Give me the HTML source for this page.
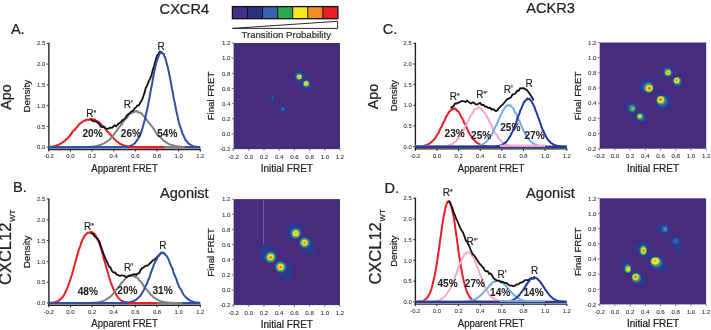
<!DOCTYPE html>
<html><head><meta charset="utf-8"><style>
html,body{margin:0;padding:0;background:#fff;width:711px;height:330px;overflow:hidden}
svg{display:block;will-change:transform}
text{font-family:"Liberation Sans", sans-serif}
</style></head><body>
<svg width="711" height="330" viewBox="0 0 711 330">
<defs><filter id="bl" x="-20%" y="-20%" width="140%" height="140%"><feGaussianBlur stdDeviation="0.55"/></filter></defs>
<rect width="711" height="330" fill="#fff"/>
<text x="159.6" y="13.7" font-size="14.6" text-anchor="start" font-weight="normal" fill="#222" stroke="#222" stroke-width="0.22">CXCR4</text>
<text x="526.2" y="13.0" font-size="14.6" text-anchor="start" font-weight="normal" fill="#222" stroke="#222" stroke-width="0.22">ACKR3</text>
<rect x="232.40" y="6.6" width="15.07" height="12.1" fill="rgb(74,45,138)"/>
<rect x="247.47" y="6.6" width="15.07" height="12.1" fill="rgb(42,50,128)"/>
<rect x="262.54" y="6.6" width="15.07" height="12.1" fill="rgb(55,100,180)"/>
<rect x="277.61" y="6.6" width="15.07" height="12.1" fill="rgb(40,170,75)"/>
<rect x="292.69" y="6.6" width="15.07" height="12.1" fill="rgb(248,230,30)"/>
<rect x="307.76" y="6.6" width="15.07" height="12.1" fill="rgb(245,138,35)"/>
<rect x="322.83" y="6.6" width="15.07" height="12.1" fill="rgb(232,32,40)"/>
<line x1="247.47" y1="6.6" x2="247.47" y2="18.7" stroke="#111" stroke-width="1"/>
<line x1="262.54" y1="6.6" x2="262.54" y2="18.7" stroke="#111" stroke-width="1"/>
<line x1="277.61" y1="6.6" x2="277.61" y2="18.7" stroke="#111" stroke-width="1"/>
<line x1="292.69" y1="6.6" x2="292.69" y2="18.7" stroke="#111" stroke-width="1"/>
<line x1="307.76" y1="6.6" x2="307.76" y2="18.7" stroke="#111" stroke-width="1"/>
<line x1="322.83" y1="6.6" x2="322.83" y2="18.7" stroke="#111" stroke-width="1"/>
<rect x="232.4" y="6.6" width="105.50" height="12.1" fill="none" stroke="#111" stroke-width="1.3"/>
<polygon points="232.4,28.4 337.6,21.3 337.6,28.4" fill="#fff" stroke="#111" stroke-width="0.9"/>
<text x="286.2" y="38.0" font-size="9.65" text-anchor="middle" font-weight="normal" fill="#333" stroke="#333" stroke-width="0.22">Transition Probability</text>
<text x="10.9" y="33.6" font-size="14.6" text-anchor="start" font-weight="normal" fill="#222" stroke="#222" stroke-width="0.22">A.</text>
<text x="382.7" y="33.9" font-size="14.6" text-anchor="start" font-weight="normal" fill="#222" stroke="#222" stroke-width="0.22">C.</text>
<text x="13.1" y="192.3" font-size="14.6" text-anchor="start" font-weight="normal" fill="#222" stroke="#222" stroke-width="0.22">B.</text>
<text x="384.5" y="192.8" font-size="14.6" text-anchor="start" font-weight="normal" fill="#222" stroke="#222" stroke-width="0.22">D.</text>
<text x="160" y="198.1" font-size="14.6" text-anchor="start" font-weight="normal" fill="#222" stroke="#222" stroke-width="0.22">Agonist</text>
<text x="526.1" y="198.2" font-size="14.6" text-anchor="start" font-weight="normal" fill="#222" stroke="#222" stroke-width="0.22">Agonist</text>
<text x="10.9" y="97" font-size="14.3" text-anchor="middle" font-weight="normal" fill="#222" stroke="#222" stroke-width="0.22" transform="rotate(-90 10.9 97)">Apo</text>
<text x="378.4" y="96.5" font-size="14.3" text-anchor="middle" font-weight="normal" fill="#222" stroke="#222" stroke-width="0.22" transform="rotate(-90 378.4 96.5)">Apo</text>
<g transform="rotate(-90 11.2 285.0)"><text x="11.2" y="285.0" font-size="16.5" text-anchor="start" fill="#222" stroke="#222" stroke-width="0.22">CXCL12<tspan font-size="7.8" dy="4.2" dx="0.8">WT</tspan></text></g>
<g transform="rotate(-90 381.0 284.6)"><text x="381.0" y="284.6" font-size="16.5" text-anchor="start" fill="#222" stroke="#222" stroke-width="0.22">CXCL12<tspan font-size="7.8" dy="4.2" dx="0.8">WT</tspan></text></g>
<text x="30.0" y="96.2" font-size="9.8" text-anchor="middle" font-weight="normal" fill="#222" stroke="#222" stroke-width="0.22" transform="rotate(-90 30.0 96.2)">Density</text>
<text x="396.6" y="95.6" font-size="9.4" text-anchor="middle" font-weight="normal" fill="#222" stroke="#222" stroke-width="0.22" transform="rotate(-90 396.6 95.6)">Density</text>
<text x="30.2" y="251.9" font-size="9.8" text-anchor="middle" font-weight="normal" fill="#222" stroke="#222" stroke-width="0.22" transform="rotate(-90 30.2 251.9)">Density</text>
<text x="396.8" y="251.2" font-size="9.4" text-anchor="middle" font-weight="normal" fill="#222" stroke="#222" stroke-width="0.22" transform="rotate(-90 396.8 251.2)">Density</text>
<text x="124.6" y="172.2" font-size="10.4" text-anchor="middle" font-weight="normal" fill="#222" stroke="#222" stroke-width="0.22" textLength="66.5" lengthAdjust="spacingAndGlyphs">Apparent FRET</text>
<text x="491" y="171.9" font-size="10.4" text-anchor="middle" font-weight="normal" fill="#222" stroke="#222" stroke-width="0.22" textLength="66.5" lengthAdjust="spacingAndGlyphs">Apparent FRET</text>
<text x="124.6" y="327.2" font-size="10.4" text-anchor="middle" font-weight="normal" fill="#222" stroke="#222" stroke-width="0.22" textLength="66.5" lengthAdjust="spacingAndGlyphs">Apparent FRET</text>
<text x="491" y="326.9" font-size="10.4" text-anchor="middle" font-weight="normal" fill="#222" stroke="#222" stroke-width="0.22" textLength="66.5" lengthAdjust="spacingAndGlyphs">Apparent FRET</text>
<text x="286.8" y="172.1" font-size="10" text-anchor="middle" font-weight="normal" fill="#222" stroke="#222" stroke-width="0.22">Initial FRET</text>
<text x="653" y="171.8" font-size="10" text-anchor="middle" font-weight="normal" fill="#222" stroke="#222" stroke-width="0.22">Initial FRET</text>
<text x="286.8" y="327.5" font-size="10" text-anchor="middle" font-weight="normal" fill="#222" stroke="#222" stroke-width="0.22">Initial FRET</text>
<text x="653" y="327" font-size="10" text-anchor="middle" font-weight="normal" fill="#222" stroke="#222" stroke-width="0.22">Initial FRET</text>
<text x="214" y="96" font-size="9.6" text-anchor="middle" font-weight="normal" fill="#222" stroke="#222" stroke-width="0.22" transform="rotate(-90 214 96)">Final FRET</text>
<text x="580.6" y="96" font-size="9.6" text-anchor="middle" font-weight="normal" fill="#222" stroke="#222" stroke-width="0.22" transform="rotate(-90 580.6 96)">Final FRET</text>
<text x="214" y="252.4" font-size="9.6" text-anchor="middle" font-weight="normal" fill="#222" stroke="#222" stroke-width="0.22" transform="rotate(-90 214 252.4)">Final FRET</text>
<text x="580.6" y="251.8" font-size="9.6" text-anchor="middle" font-weight="normal" fill="#222" stroke="#222" stroke-width="0.22" transform="rotate(-90 580.6 251.8)">Final FRET</text>
<rect x="233.6" y="43.0" width="106.4" height="106.1" fill="rgb(71,43,124)"/>
<g filter="url(#bl)">
<polygon points="293.90,73.17 296.70,70.37 302.30,70.37 305.10,75.41 304.54,81.01 299.50,82.69 294.46,80.45" fill="rgb(42,58,146)"/><ellipse cx="0" cy="0" rx="3.59" ry="3.59" fill="rgb(54,94,180)" transform="translate(298.90 76.40) rotate(0)"/><ellipse cx="0" cy="0" rx="2.80" ry="2.80" fill="rgb(60,175,95)" transform="translate(299.22 76.73) rotate(0)"/><ellipse cx="0" cy="0" rx="2.20" ry="2.20" fill="rgb(240,225,45)" transform="translate(299.35 76.85) rotate(0)"/><ellipse cx="0" cy="0" rx="0.80" ry="0.80" fill="rgb(242,140,40)" transform="translate(299.40 76.90) rotate(0)"/>
<polygon points="300.93,79.51 306.53,77.83 310.45,80.63 312.13,86.79 309.33,89.59 303.73,89.03 300.37,85.11" fill="rgb(42,58,146)"/><ellipse cx="0" cy="0" rx="3.59" ry="3.59" fill="rgb(54,94,180)" transform="translate(306.50 83.90) rotate(0)"/><ellipse cx="0" cy="0" rx="2.80" ry="2.80" fill="rgb(60,175,95)" transform="translate(306.18 83.58) rotate(0)"/><ellipse cx="0" cy="0" rx="2.20" ry="2.20" fill="rgb(240,225,45)" transform="translate(306.05 83.45) rotate(0)"/><ellipse cx="0" cy="0" rx="0.80" ry="0.80" fill="rgb(242,140,40)" transform="translate(306.00 83.40) rotate(0)"/>
<polygon points="270.58,92.64 274.39,92.64 275.06,103.06 270.36,103.06" fill="rgb(42,58,146)"/><ellipse cx="0" cy="0" rx="0.81" ry="1.47" fill="rgb(54,94,180)" transform="translate(272.60 98.00) rotate(0)"/>
<polygon points="279.18,105.66 283.55,104.77 286.79,108.58 285.90,112.61 280.19,112.38" fill="rgb(42,58,146)"/><ellipse cx="0" cy="0" rx="1.84" ry="1.84" fill="rgb(54,94,180)" transform="translate(282.80 109.00) rotate(0)"/>
</g>
<line x1="231.79999999999998" y1="149.1" x2="233.6" y2="149.1" stroke="#555" stroke-width="0.8"/>
<text x="230.4" y="151.4" font-size="6.1" text-anchor="end" font-weight="normal" fill="#333" stroke="#333" stroke-width="0.08">-0.2</text>
<line x1="233.6" y1="149.1" x2="233.6" y2="150.9" stroke="#555" stroke-width="0.8"/>
<text x="233.6" y="158.6" font-size="6.1" text-anchor="middle" font-weight="normal" fill="#333" stroke="#333" stroke-width="0.08">-0.2</text>
<line x1="231.79999999999998" y1="133.94285714285715" x2="233.6" y2="133.94285714285715" stroke="#555" stroke-width="0.8"/>
<text x="230.4" y="136.24285714285716" font-size="6.1" text-anchor="end" font-weight="normal" fill="#333" stroke="#333" stroke-width="0.08">0.0</text>
<line x1="248.79999999999998" y1="149.1" x2="248.79999999999998" y2="150.9" stroke="#555" stroke-width="0.8"/>
<text x="248.79999999999998" y="158.6" font-size="6.1" text-anchor="middle" font-weight="normal" fill="#333" stroke="#333" stroke-width="0.08">0.0</text>
<line x1="231.79999999999998" y1="118.78571428571428" x2="233.6" y2="118.78571428571428" stroke="#555" stroke-width="0.8"/>
<text x="230.4" y="121.08571428571427" font-size="6.1" text-anchor="end" font-weight="normal" fill="#333" stroke="#333" stroke-width="0.08">0.2</text>
<line x1="264.0" y1="149.1" x2="264.0" y2="150.9" stroke="#555" stroke-width="0.8"/>
<text x="264.0" y="158.6" font-size="6.1" text-anchor="middle" font-weight="normal" fill="#333" stroke="#333" stroke-width="0.08">0.2</text>
<line x1="231.79999999999998" y1="103.62857142857143" x2="233.6" y2="103.62857142857143" stroke="#555" stroke-width="0.8"/>
<text x="230.4" y="105.92857142857143" font-size="6.1" text-anchor="end" font-weight="normal" fill="#333" stroke="#333" stroke-width="0.08">0.4</text>
<line x1="279.2" y1="149.1" x2="279.2" y2="150.9" stroke="#555" stroke-width="0.8"/>
<text x="279.2" y="158.6" font-size="6.1" text-anchor="middle" font-weight="normal" fill="#333" stroke="#333" stroke-width="0.08">0.4</text>
<line x1="231.79999999999998" y1="88.47142857142856" x2="233.6" y2="88.47142857142856" stroke="#555" stroke-width="0.8"/>
<text x="230.4" y="90.77142857142856" font-size="6.1" text-anchor="end" font-weight="normal" fill="#333" stroke="#333" stroke-width="0.08">0.6</text>
<line x1="294.4" y1="149.1" x2="294.4" y2="150.9" stroke="#555" stroke-width="0.8"/>
<text x="294.4" y="158.6" font-size="6.1" text-anchor="middle" font-weight="normal" fill="#333" stroke="#333" stroke-width="0.08">0.6</text>
<line x1="231.79999999999998" y1="73.3142857142857" x2="233.6" y2="73.3142857142857" stroke="#555" stroke-width="0.8"/>
<text x="230.4" y="75.6142857142857" font-size="6.1" text-anchor="end" font-weight="normal" fill="#333" stroke="#333" stroke-width="0.08">0.8</text>
<line x1="309.6" y1="149.1" x2="309.6" y2="150.9" stroke="#555" stroke-width="0.8"/>
<text x="309.6" y="158.6" font-size="6.1" text-anchor="middle" font-weight="normal" fill="#333" stroke="#333" stroke-width="0.08">0.8</text>
<line x1="231.79999999999998" y1="58.15714285714286" x2="233.6" y2="58.15714285714286" stroke="#555" stroke-width="0.8"/>
<text x="230.4" y="60.457142857142856" font-size="6.1" text-anchor="end" font-weight="normal" fill="#333" stroke="#333" stroke-width="0.08">1.0</text>
<line x1="324.8" y1="149.1" x2="324.8" y2="150.9" stroke="#555" stroke-width="0.8"/>
<text x="324.8" y="158.6" font-size="6.1" text-anchor="middle" font-weight="normal" fill="#333" stroke="#333" stroke-width="0.08">1.0</text>
<line x1="231.79999999999998" y1="43.0" x2="233.6" y2="43.0" stroke="#555" stroke-width="0.8"/>
<text x="230.4" y="45.3" font-size="6.1" text-anchor="end" font-weight="normal" fill="#333" stroke="#333" stroke-width="0.08">1.2</text>
<line x1="340.0" y1="149.1" x2="340.0" y2="150.9" stroke="#555" stroke-width="0.8"/>
<text x="340.0" y="158.6" font-size="6.1" text-anchor="middle" font-weight="normal" fill="#333" stroke="#333" stroke-width="0.08">1.2</text>
<rect x="233.6" y="199.1" width="106.4" height="106.0" fill="rgb(71,43,124)"/>
<g filter="url(#bl)"><line x1="263.5" y1="199.1" x2="263.5" y2="245.6" stroke="rgb(125,110,170)" stroke-width="0.7"/><line x1="290" y1="265" x2="290" y2="279" stroke="rgb(70,80,160)" stroke-width="0.7"/>
<polygon points="286.76,228.60 291.13,224.12 297.74,223.00 302.22,230.73 299.98,238.46 292.25,239.58 285.64,235.21" fill="rgb(42,58,146)"/><ellipse cx="0" cy="0" rx="5.34" ry="5.34" fill="rgb(54,94,180)" transform="translate(295.80 233.40) rotate(0)"/><ellipse cx="0" cy="0" rx="4.30" ry="4.30" fill="rgb(60,175,95)" transform="translate(295.80 233.40) rotate(0)"/><ellipse cx="0" cy="0" rx="2.90" ry="2.90" fill="rgb(240,225,45)" transform="translate(295.80 233.40) rotate(0)"/><ellipse cx="0" cy="0" rx="1.00" ry="1.00" fill="rgb(242,140,40)" transform="translate(295.80 233.40) rotate(0)"/>
<polygon points="300.57,237.82 309.42,237.82 314.91,244.43 316.03,253.28 308.30,255.52 302.81,249.92 299.45,243.31" fill="rgb(42,58,146)"/><ellipse cx="0" cy="0" rx="5.52" ry="5.52" fill="rgb(54,94,180)" transform="translate(304.60 242.70) rotate(0)"/><ellipse cx="0" cy="0" rx="4.40" ry="4.40" fill="rgb(60,175,95)" transform="translate(304.60 242.70) rotate(0)"/><ellipse cx="0" cy="0" rx="3.00" ry="3.00" fill="rgb(240,225,45)" transform="translate(304.60 242.70) rotate(0)"/><ellipse cx="0" cy="0" rx="1.30" ry="1.30" fill="rgb(242,140,40)" transform="translate(304.60 242.70) rotate(0)"/><ellipse cx="0" cy="0" rx="0.40" ry="0.40" fill="rgb(232,45,40)" transform="translate(304.60 242.70) rotate(0)"/>
<polygon points="257.88,251.17 263.48,244.57 268.97,245.69 275.57,251.17 276.69,260.02 273.33,263.27 264.49,261.14 259.00,256.66" fill="rgb(42,58,146)"/><ellipse cx="0" cy="0" rx="5.70" ry="5.70" fill="rgb(54,94,180)" transform="translate(270.60 257.20) rotate(0)"/><ellipse cx="0" cy="0" rx="4.60" ry="4.60" fill="rgb(60,175,95)" transform="translate(270.60 257.20) rotate(0)"/><ellipse cx="0" cy="0" rx="3.10" ry="3.10" fill="rgb(240,225,45)" transform="translate(270.60 257.20) rotate(0)"/><ellipse cx="0" cy="0" rx="1.50" ry="1.50" fill="rgb(242,140,40)" transform="translate(270.60 257.20) rotate(0)"/><ellipse cx="0" cy="0" rx="0.50" ry="0.50" fill="rgb(232,45,40)" transform="translate(270.60 257.20) rotate(0)"/>
<polygon points="275.88,261.37 284.61,262.49 291.33,263.61 291.33,280.18 284.61,279.06 280.24,274.70 277.00,269.10" fill="rgb(42,58,146)"/><ellipse cx="0" cy="0" rx="5.70" ry="5.70" fill="rgb(54,94,180)" transform="translate(280.60 266.90) rotate(0)"/><ellipse cx="0" cy="0" rx="4.60" ry="4.60" fill="rgb(60,175,95)" transform="translate(280.60 266.90) rotate(0)"/><ellipse cx="0" cy="0" rx="3.10" ry="3.10" fill="rgb(240,225,45)" transform="translate(280.60 266.90) rotate(0)"/><ellipse cx="0" cy="0" rx="1.50" ry="1.50" fill="rgb(242,140,40)" transform="translate(280.60 266.90) rotate(0)"/><ellipse cx="0" cy="0" rx="0.50" ry="0.50" fill="rgb(232,45,40)" transform="translate(280.60 266.90) rotate(0)"/>
</g>
<line x1="231.79999999999998" y1="305.1" x2="233.6" y2="305.1" stroke="#555" stroke-width="0.8"/>
<text x="230.4" y="307.40000000000003" font-size="6.1" text-anchor="end" font-weight="normal" fill="#333" stroke="#333" stroke-width="0.08">-0.2</text>
<line x1="233.6" y1="305.1" x2="233.6" y2="306.90000000000003" stroke="#555" stroke-width="0.8"/>
<text x="233.6" y="314.6" font-size="6.1" text-anchor="middle" font-weight="normal" fill="#333" stroke="#333" stroke-width="0.08">-0.2</text>
<line x1="231.79999999999998" y1="289.95714285714286" x2="233.6" y2="289.95714285714286" stroke="#555" stroke-width="0.8"/>
<text x="230.4" y="292.25714285714287" font-size="6.1" text-anchor="end" font-weight="normal" fill="#333" stroke="#333" stroke-width="0.08">0.0</text>
<line x1="248.79999999999998" y1="305.1" x2="248.79999999999998" y2="306.90000000000003" stroke="#555" stroke-width="0.8"/>
<text x="248.79999999999998" y="314.6" font-size="6.1" text-anchor="middle" font-weight="normal" fill="#333" stroke="#333" stroke-width="0.08">0.0</text>
<line x1="231.79999999999998" y1="274.81428571428575" x2="233.6" y2="274.81428571428575" stroke="#555" stroke-width="0.8"/>
<text x="230.4" y="277.11428571428576" font-size="6.1" text-anchor="end" font-weight="normal" fill="#333" stroke="#333" stroke-width="0.08">0.2</text>
<line x1="264.0" y1="305.1" x2="264.0" y2="306.90000000000003" stroke="#555" stroke-width="0.8"/>
<text x="264.0" y="314.6" font-size="6.1" text-anchor="middle" font-weight="normal" fill="#333" stroke="#333" stroke-width="0.08">0.2</text>
<line x1="231.79999999999998" y1="259.6714285714286" x2="233.6" y2="259.6714285714286" stroke="#555" stroke-width="0.8"/>
<text x="230.4" y="261.9714285714286" font-size="6.1" text-anchor="end" font-weight="normal" fill="#333" stroke="#333" stroke-width="0.08">0.4</text>
<line x1="279.2" y1="305.1" x2="279.2" y2="306.90000000000003" stroke="#555" stroke-width="0.8"/>
<text x="279.2" y="314.6" font-size="6.1" text-anchor="middle" font-weight="normal" fill="#333" stroke="#333" stroke-width="0.08">0.4</text>
<line x1="231.79999999999998" y1="244.52857142857147" x2="233.6" y2="244.52857142857147" stroke="#555" stroke-width="0.8"/>
<text x="230.4" y="246.82857142857148" font-size="6.1" text-anchor="end" font-weight="normal" fill="#333" stroke="#333" stroke-width="0.08">0.6</text>
<line x1="294.4" y1="305.1" x2="294.4" y2="306.90000000000003" stroke="#555" stroke-width="0.8"/>
<text x="294.4" y="314.6" font-size="6.1" text-anchor="middle" font-weight="normal" fill="#333" stroke="#333" stroke-width="0.08">0.6</text>
<line x1="231.79999999999998" y1="229.3857142857143" x2="233.6" y2="229.3857142857143" stroke="#555" stroke-width="0.8"/>
<text x="230.4" y="231.6857142857143" font-size="6.1" text-anchor="end" font-weight="normal" fill="#333" stroke="#333" stroke-width="0.08">0.8</text>
<line x1="309.6" y1="305.1" x2="309.6" y2="306.90000000000003" stroke="#555" stroke-width="0.8"/>
<text x="309.6" y="314.6" font-size="6.1" text-anchor="middle" font-weight="normal" fill="#333" stroke="#333" stroke-width="0.08">0.8</text>
<line x1="231.79999999999998" y1="214.24285714285716" x2="233.6" y2="214.24285714285716" stroke="#555" stroke-width="0.8"/>
<text x="230.4" y="216.54285714285717" font-size="6.1" text-anchor="end" font-weight="normal" fill="#333" stroke="#333" stroke-width="0.08">1.0</text>
<line x1="324.8" y1="305.1" x2="324.8" y2="306.90000000000003" stroke="#555" stroke-width="0.8"/>
<text x="324.8" y="314.6" font-size="6.1" text-anchor="middle" font-weight="normal" fill="#333" stroke="#333" stroke-width="0.08">1.0</text>
<line x1="231.79999999999998" y1="199.10000000000002" x2="233.6" y2="199.10000000000002" stroke="#555" stroke-width="0.8"/>
<text x="230.4" y="201.40000000000003" font-size="6.1" text-anchor="end" font-weight="normal" fill="#333" stroke="#333" stroke-width="0.08">1.2</text>
<line x1="340.0" y1="305.1" x2="340.0" y2="306.90000000000003" stroke="#555" stroke-width="0.8"/>
<text x="340.0" y="314.6" font-size="6.1" text-anchor="middle" font-weight="normal" fill="#333" stroke="#333" stroke-width="0.08">1.2</text>
<rect x="599.7" y="42.5" width="106.5" height="106.2" fill="rgb(71,43,124)"/>
<g filter="url(#bl)">
<polygon points="662.85,69.62 666.21,66.93 671.70,67.38 673.94,72.87 671.70,77.35 666.21,77.35 663.30,73.99" fill="rgb(42,58,146)"/><ellipse cx="0" cy="0" rx="4.05" ry="4.05" fill="rgb(54,94,180)" transform="translate(667.50 72.00) rotate(0)"/><ellipse cx="0" cy="0" rx="3.30" ry="3.30" fill="rgb(60,175,95)" transform="translate(668.02 72.52) rotate(0)"/><ellipse cx="0" cy="0" rx="2.40" ry="2.40" fill="rgb(240,225,45)" transform="translate(668.22 72.72) rotate(0)"/><ellipse cx="0" cy="0" rx="1.10" ry="1.10" fill="rgb(242,140,40)" transform="translate(668.30 72.80) rotate(0)"/>
<polygon points="671.73,76.16 678.34,76.16 682.71,81.65 682.71,87.14 678.34,88.26 673.86,85.01 671.73,80.53" fill="rgb(42,58,146)"/><ellipse cx="0" cy="0" rx="4.23" ry="4.23" fill="rgb(54,94,180)" transform="translate(677.60 81.30) rotate(0)"/><ellipse cx="0" cy="0" rx="3.50" ry="3.50" fill="rgb(60,175,95)" transform="translate(676.95 80.65) rotate(0)"/><ellipse cx="0" cy="0" rx="2.60" ry="2.60" fill="rgb(240,225,45)" transform="translate(676.70 80.40) rotate(0)"/><ellipse cx="0" cy="0" rx="1.30" ry="1.30" fill="rgb(242,140,40)" transform="translate(676.60 80.30) rotate(0)"/>
<polygon points="637.72,84.52 643.32,78.92 651.04,78.92 654.29,85.53 654.29,92.25 647.68,93.26 639.96,90.01" fill="rgb(42,58,146)"/><ellipse cx="0" cy="0" rx="5.34" ry="5.34" fill="rgb(54,94,180)" transform="translate(648.10 87.20) rotate(0)"/><ellipse cx="0" cy="0" rx="4.40" ry="4.40" fill="rgb(60,175,95)" transform="translate(648.88 87.98) rotate(0)"/><ellipse cx="0" cy="0" rx="3.30" ry="3.30" fill="rgb(240,225,45)" transform="translate(649.18 88.28) rotate(0)"/><ellipse cx="0" cy="0" rx="1.80" ry="1.80" fill="rgb(242,140,40)" transform="translate(649.30 88.40) rotate(0)"/><ellipse cx="0" cy="0" rx="0.60" ry="0.60" fill="rgb(232,45,40)" transform="translate(649.30 88.40) rotate(0)"/>
<polygon points="655.64,93.62 664.49,93.62 671.10,98.10 671.10,105.83 667.74,109.07 660.01,109.07 655.64,103.59" fill="rgb(42,58,146)"/><ellipse cx="0" cy="0" rx="5.52" ry="5.52" fill="rgb(54,94,180)" transform="translate(662.30 101.30) rotate(0)"/><ellipse cx="0" cy="0" rx="4.40" ry="4.40" fill="rgb(60,175,95)" transform="translate(661.13 100.13) rotate(0)"/><ellipse cx="0" cy="0" rx="3.30" ry="3.30" fill="rgb(240,225,45)" transform="translate(660.68 99.68) rotate(0)"/><ellipse cx="0" cy="0" rx="1.80" ry="1.80" fill="rgb(242,140,40)" transform="translate(660.50 99.50) rotate(0)"/><ellipse cx="0" cy="0" rx="0.70" ry="0.70" fill="rgb(232,45,40)" transform="translate(660.50 99.50) rotate(0)"/>
<polygon points="625.31,105.03 628.67,102.79 633.03,103.91 636.39,109.40 635.27,113.88 630.79,113.88 626.43,110.52" fill="rgb(42,58,146)"/><ellipse cx="0" cy="0" rx="3.86" ry="3.86" fill="rgb(54,94,180)" transform="translate(632.00 108.10) rotate(0)"/><ellipse cx="0" cy="0" rx="2.80" ry="2.80" fill="rgb(60,175,95)" transform="translate(632.52 108.62) rotate(0)"/><ellipse cx="0" cy="0" rx="0.70" ry="0.70" fill="rgb(240,225,45)" transform="translate(632.72 108.82) rotate(0)"/>
<polygon points="636.26,111.76 642.87,111.76 647.24,116.13 647.24,119.49 642.87,121.62 637.38,120.61 635.14,116.13" fill="rgb(42,58,146)"/><ellipse cx="0" cy="0" rx="3.86" ry="3.86" fill="rgb(54,94,180)" transform="translate(640.50 117.00) rotate(0)"/><ellipse cx="0" cy="0" rx="3.00" ry="3.00" fill="rgb(60,175,95)" transform="translate(639.98 116.48) rotate(0)"/><ellipse cx="0" cy="0" rx="1.80" ry="1.80" fill="rgb(240,225,45)" transform="translate(639.78 116.28) rotate(0)"/><ellipse cx="0" cy="0" rx="0.50" ry="0.50" fill="rgb(242,140,40)" transform="translate(639.70 116.20) rotate(0)"/>
</g>
<line x1="597.9000000000001" y1="148.7" x2="599.7" y2="148.7" stroke="#555" stroke-width="0.8"/>
<text x="596.5" y="151.0" font-size="6.1" text-anchor="end" font-weight="normal" fill="#333" stroke="#333" stroke-width="0.08">-0.2</text>
<line x1="599.7" y1="148.7" x2="599.7" y2="150.5" stroke="#555" stroke-width="0.8"/>
<text x="599.7" y="158.2" font-size="6.1" text-anchor="middle" font-weight="normal" fill="#333" stroke="#333" stroke-width="0.08">-0.2</text>
<line x1="597.9000000000001" y1="133.5285714285714" x2="599.7" y2="133.5285714285714" stroke="#555" stroke-width="0.8"/>
<text x="596.5" y="135.82857142857142" font-size="6.1" text-anchor="end" font-weight="normal" fill="#333" stroke="#333" stroke-width="0.08">0.0</text>
<line x1="614.9142857142857" y1="148.7" x2="614.9142857142857" y2="150.5" stroke="#555" stroke-width="0.8"/>
<text x="614.9142857142857" y="158.2" font-size="6.1" text-anchor="middle" font-weight="normal" fill="#333" stroke="#333" stroke-width="0.08">0.0</text>
<line x1="597.9000000000001" y1="118.35714285714285" x2="599.7" y2="118.35714285714285" stroke="#555" stroke-width="0.8"/>
<text x="596.5" y="120.65714285714284" font-size="6.1" text-anchor="end" font-weight="normal" fill="#333" stroke="#333" stroke-width="0.08">0.2</text>
<line x1="630.1285714285715" y1="148.7" x2="630.1285714285715" y2="150.5" stroke="#555" stroke-width="0.8"/>
<text x="630.1285714285715" y="158.2" font-size="6.1" text-anchor="middle" font-weight="normal" fill="#333" stroke="#333" stroke-width="0.08">0.2</text>
<line x1="597.9000000000001" y1="103.18571428571427" x2="599.7" y2="103.18571428571427" stroke="#555" stroke-width="0.8"/>
<text x="596.5" y="105.48571428571427" font-size="6.1" text-anchor="end" font-weight="normal" fill="#333" stroke="#333" stroke-width="0.08">0.4</text>
<line x1="645.3428571428572" y1="148.7" x2="645.3428571428572" y2="150.5" stroke="#555" stroke-width="0.8"/>
<text x="645.3428571428572" y="158.2" font-size="6.1" text-anchor="middle" font-weight="normal" fill="#333" stroke="#333" stroke-width="0.08">0.4</text>
<line x1="597.9000000000001" y1="88.0142857142857" x2="599.7" y2="88.0142857142857" stroke="#555" stroke-width="0.8"/>
<text x="596.5" y="90.3142857142857" font-size="6.1" text-anchor="end" font-weight="normal" fill="#333" stroke="#333" stroke-width="0.08">0.6</text>
<line x1="660.5571428571429" y1="148.7" x2="660.5571428571429" y2="150.5" stroke="#555" stroke-width="0.8"/>
<text x="660.5571428571429" y="158.2" font-size="6.1" text-anchor="middle" font-weight="normal" fill="#333" stroke="#333" stroke-width="0.08">0.6</text>
<line x1="597.9000000000001" y1="72.84285714285713" x2="599.7" y2="72.84285714285713" stroke="#555" stroke-width="0.8"/>
<text x="596.5" y="75.14285714285712" font-size="6.1" text-anchor="end" font-weight="normal" fill="#333" stroke="#333" stroke-width="0.08">0.8</text>
<line x1="675.7714285714286" y1="148.7" x2="675.7714285714286" y2="150.5" stroke="#555" stroke-width="0.8"/>
<text x="675.7714285714286" y="158.2" font-size="6.1" text-anchor="middle" font-weight="normal" fill="#333" stroke="#333" stroke-width="0.08">0.8</text>
<line x1="597.9000000000001" y1="57.67142857142855" x2="599.7" y2="57.67142857142855" stroke="#555" stroke-width="0.8"/>
<text x="596.5" y="59.97142857142855" font-size="6.1" text-anchor="end" font-weight="normal" fill="#333" stroke="#333" stroke-width="0.08">1.0</text>
<line x1="690.9857142857144" y1="148.7" x2="690.9857142857144" y2="150.5" stroke="#555" stroke-width="0.8"/>
<text x="690.9857142857144" y="158.2" font-size="6.1" text-anchor="middle" font-weight="normal" fill="#333" stroke="#333" stroke-width="0.08">1.0</text>
<line x1="597.9000000000001" y1="42.499999999999986" x2="599.7" y2="42.499999999999986" stroke="#555" stroke-width="0.8"/>
<text x="596.5" y="44.79999999999998" font-size="6.1" text-anchor="end" font-weight="normal" fill="#333" stroke="#333" stroke-width="0.08">1.2</text>
<line x1="706.2" y1="148.7" x2="706.2" y2="150.5" stroke="#555" stroke-width="0.8"/>
<text x="706.2" y="158.2" font-size="6.1" text-anchor="middle" font-weight="normal" fill="#333" stroke="#333" stroke-width="0.08">1.2</text>
<rect x="599.7" y="198.3" width="106.4" height="106.1" fill="rgb(71,43,124)"/>
<g filter="url(#bl)">
<polygon points="655.62,226.49 660.33,222.90 666.26,224.02 669.85,228.84 668.62,233.54 662.68,233.54 656.74,229.96" fill="rgb(42,58,146)"/><ellipse cx="0" cy="0" rx="3.13" ry="3.13" fill="rgb(54,94,180)" transform="translate(664.70 228.90) rotate(0)"/><ellipse cx="0" cy="0" rx="1.40" ry="1.40" fill="rgb(60,175,95)" transform="translate(665.22 229.22) rotate(0)"/>
<polygon points="670.63,236.58 676.57,234.90 680.15,240.17 681.39,249.57 677.80,252.04 674.22,247.22 670.63,242.52" fill="rgb(42,58,146)"/><ellipse cx="0" cy="0" rx="2.76" ry="2.76" fill="rgb(54,94,180)" transform="translate(675.80 241.00) rotate(0)"/>
<polygon points="634.31,246.51 640.25,241.80 647.31,241.80 649.66,248.86 648.54,256.03 642.60,257.26 635.43,252.44" fill="rgb(42,58,146)"/><ellipse cx="0" cy="0" rx="3.86" ry="5.15" fill="rgb(54,94,180)" transform="translate(643.10 250.10) rotate(0)"/><ellipse cx="0" cy="0" rx="3.38" ry="4.50" fill="rgb(60,175,95)" transform="translate(643.43 250.42) rotate(0)"/><ellipse cx="0" cy="0" rx="2.40" ry="3.20" fill="rgb(240,225,45)" transform="translate(643.55 250.55) rotate(0)"/><ellipse cx="0" cy="0" rx="1.35" ry="1.80" fill="rgb(242,140,40)" transform="translate(643.60 250.60) rotate(0)"/><ellipse cx="0" cy="0" rx="0.52" ry="0.70" fill="rgb(232,45,40)" transform="translate(643.60 250.60) rotate(0)"/>
<polygon points="649.07,255.59 656.24,254.35 663.30,259.06 666.88,267.46 663.30,271.04 655.01,269.81 650.30,264.99" fill="rgb(42,58,146)"/><ellipse cx="0" cy="0" rx="6.18" ry="5.52" fill="rgb(54,94,180)" transform="translate(656.40 262.50) rotate(10)"/><ellipse cx="0" cy="0" rx="5.15" ry="4.60" fill="rgb(60,175,95)" transform="translate(655.62 261.52) rotate(10)"/><ellipse cx="0" cy="0" rx="3.81" ry="3.40" fill="rgb(240,225,45)" transform="translate(655.32 261.15) rotate(10)"/><ellipse cx="0" cy="0" rx="0.90" ry="0.80" fill="rgb(242,140,40)" transform="translate(655.20 261.00) rotate(10)"/>
<polygon points="621.91,262.19 625.49,258.60 629.08,263.42 631.43,270.59 630.20,274.06 625.49,272.94 621.91,267.00" fill="rgb(42,58,146)"/><ellipse cx="0" cy="0" rx="3.53" ry="4.42" fill="rgb(54,94,180)" transform="translate(627.70 268.60) rotate(0)"/><ellipse cx="0" cy="0" rx="2.96" ry="3.70" fill="rgb(60,175,95)" transform="translate(628.03 268.93) rotate(0)"/><ellipse cx="0" cy="0" rx="2.08" ry="2.60" fill="rgb(240,225,45)" transform="translate(628.15 269.05) rotate(0)"/><ellipse cx="0" cy="0" rx="0.56" ry="0.70" fill="rgb(242,140,40)" transform="translate(628.20 269.10) rotate(0)"/>
<polygon points="631.29,271.65 638.35,270.42 644.29,275.23 646.75,282.29 640.81,284.64 633.65,282.29 630.06,277.58" fill="rgb(42,58,146)"/><ellipse cx="0" cy="0" rx="4.78" ry="4.78" fill="rgb(54,94,180)" transform="translate(636.60 278.10) rotate(0)"/><ellipse cx="0" cy="0" rx="4.10" ry="4.10" fill="rgb(60,175,95)" transform="translate(635.95 277.32) rotate(0)"/><ellipse cx="0" cy="0" rx="3.00" ry="3.00" fill="rgb(240,225,45)" transform="translate(635.70 277.02) rotate(0)"/><ellipse cx="0" cy="0" rx="1.70" ry="1.70" fill="rgb(242,140,40)" transform="translate(635.60 276.90) rotate(0)"/><ellipse cx="0" cy="0" rx="0.60" ry="0.60" fill="rgb(232,45,40)" transform="translate(635.60 276.90) rotate(0)"/>
</g>
<line x1="597.9000000000001" y1="304.4" x2="599.7" y2="304.4" stroke="#555" stroke-width="0.8"/>
<text x="596.5" y="306.7" font-size="6.1" text-anchor="end" font-weight="normal" fill="#333" stroke="#333" stroke-width="0.08">-0.2</text>
<line x1="599.7" y1="304.4" x2="599.7" y2="306.2" stroke="#555" stroke-width="0.8"/>
<text x="599.7" y="313.9" font-size="6.1" text-anchor="middle" font-weight="normal" fill="#333" stroke="#333" stroke-width="0.08">-0.2</text>
<line x1="597.9000000000001" y1="289.24285714285713" x2="599.7" y2="289.24285714285713" stroke="#555" stroke-width="0.8"/>
<text x="596.5" y="291.54285714285714" font-size="6.1" text-anchor="end" font-weight="normal" fill="#333" stroke="#333" stroke-width="0.08">0.0</text>
<line x1="614.9000000000001" y1="304.4" x2="614.9000000000001" y2="306.2" stroke="#555" stroke-width="0.8"/>
<text x="614.9000000000001" y="313.9" font-size="6.1" text-anchor="middle" font-weight="normal" fill="#333" stroke="#333" stroke-width="0.08">0.0</text>
<line x1="597.9000000000001" y1="274.0857142857143" x2="599.7" y2="274.0857142857143" stroke="#555" stroke-width="0.8"/>
<text x="596.5" y="276.3857142857143" font-size="6.1" text-anchor="end" font-weight="normal" fill="#333" stroke="#333" stroke-width="0.08">0.2</text>
<line x1="630.1" y1="304.4" x2="630.1" y2="306.2" stroke="#555" stroke-width="0.8"/>
<text x="630.1" y="313.9" font-size="6.1" text-anchor="middle" font-weight="normal" fill="#333" stroke="#333" stroke-width="0.08">0.2</text>
<line x1="597.9000000000001" y1="258.9285714285714" x2="599.7" y2="258.9285714285714" stroke="#555" stroke-width="0.8"/>
<text x="596.5" y="261.2285714285714" font-size="6.1" text-anchor="end" font-weight="normal" fill="#333" stroke="#333" stroke-width="0.08">0.4</text>
<line x1="645.3000000000001" y1="304.4" x2="645.3000000000001" y2="306.2" stroke="#555" stroke-width="0.8"/>
<text x="645.3000000000001" y="313.9" font-size="6.1" text-anchor="middle" font-weight="normal" fill="#333" stroke="#333" stroke-width="0.08">0.4</text>
<line x1="597.9000000000001" y1="243.77142857142854" x2="599.7" y2="243.77142857142854" stroke="#555" stroke-width="0.8"/>
<text x="596.5" y="246.07142857142856" font-size="6.1" text-anchor="end" font-weight="normal" fill="#333" stroke="#333" stroke-width="0.08">0.6</text>
<line x1="660.5" y1="304.4" x2="660.5" y2="306.2" stroke="#555" stroke-width="0.8"/>
<text x="660.5" y="313.9" font-size="6.1" text-anchor="middle" font-weight="normal" fill="#333" stroke="#333" stroke-width="0.08">0.6</text>
<line x1="597.9000000000001" y1="228.6142857142857" x2="599.7" y2="228.6142857142857" stroke="#555" stroke-width="0.8"/>
<text x="596.5" y="230.9142857142857" font-size="6.1" text-anchor="end" font-weight="normal" fill="#333" stroke="#333" stroke-width="0.08">0.8</text>
<line x1="675.7" y1="304.4" x2="675.7" y2="306.2" stroke="#555" stroke-width="0.8"/>
<text x="675.7" y="313.9" font-size="6.1" text-anchor="middle" font-weight="normal" fill="#333" stroke="#333" stroke-width="0.08">0.8</text>
<line x1="597.9000000000001" y1="213.45714285714286" x2="599.7" y2="213.45714285714286" stroke="#555" stroke-width="0.8"/>
<text x="596.5" y="215.75714285714287" font-size="6.1" text-anchor="end" font-weight="normal" fill="#333" stroke="#333" stroke-width="0.08">1.0</text>
<line x1="690.9000000000001" y1="304.4" x2="690.9000000000001" y2="306.2" stroke="#555" stroke-width="0.8"/>
<text x="690.9000000000001" y="313.9" font-size="6.1" text-anchor="middle" font-weight="normal" fill="#333" stroke="#333" stroke-width="0.08">1.0</text>
<line x1="597.9000000000001" y1="198.29999999999998" x2="599.7" y2="198.29999999999998" stroke="#555" stroke-width="0.8"/>
<text x="596.5" y="200.6" font-size="6.1" text-anchor="end" font-weight="normal" fill="#333" stroke="#333" stroke-width="0.08">1.2</text>
<line x1="706.1" y1="304.4" x2="706.1" y2="306.2" stroke="#555" stroke-width="0.8"/>
<text x="706.1" y="313.9" font-size="6.1" text-anchor="middle" font-weight="normal" fill="#333" stroke="#333" stroke-width="0.08">1.2</text>
<line x1="48.9" y1="42.69999999999998" x2="48.9" y2="150.3" stroke="#222" stroke-width="1.4"/>
<line x1="48.199999999999996" y1="149.5" x2="200.77999999999997" y2="149.5" stroke="#222" stroke-width="1.4"/>
<line x1="46.9" y1="147.2" x2="48.9" y2="147.2" stroke="#222" stroke-width="1"/>
<text x="45.199999999999996" y="149.29999999999998" font-size="5.9" text-anchor="end" font-weight="normal" fill="#333" stroke="#333" stroke-width="0.08">0.0</text>
<line x1="46.9" y1="126.41999999999999" x2="48.9" y2="126.41999999999999" stroke="#222" stroke-width="1"/>
<text x="45.199999999999996" y="128.51999999999998" font-size="5.9" text-anchor="end" font-weight="normal" fill="#333" stroke="#333" stroke-width="0.08">0.5</text>
<line x1="46.9" y1="105.63999999999999" x2="48.9" y2="105.63999999999999" stroke="#222" stroke-width="1"/>
<text x="45.199999999999996" y="107.73999999999998" font-size="5.9" text-anchor="end" font-weight="normal" fill="#333" stroke="#333" stroke-width="0.08">1.0</text>
<line x1="46.9" y1="84.85999999999999" x2="48.9" y2="84.85999999999999" stroke="#222" stroke-width="1"/>
<text x="45.199999999999996" y="86.95999999999998" font-size="5.9" text-anchor="end" font-weight="normal" fill="#333" stroke="#333" stroke-width="0.08">1.5</text>
<line x1="46.9" y1="64.07999999999998" x2="48.9" y2="64.07999999999998" stroke="#222" stroke-width="1"/>
<text x="45.199999999999996" y="66.17999999999998" font-size="5.9" text-anchor="end" font-weight="normal" fill="#333" stroke="#333" stroke-width="0.08">2.0</text>
<line x1="46.9" y1="43.29999999999998" x2="48.9" y2="43.29999999999998" stroke="#222" stroke-width="1"/>
<text x="45.199999999999996" y="45.399999999999984" font-size="5.9" text-anchor="end" font-weight="normal" fill="#333" stroke="#333" stroke-width="0.08">2.5</text>
<line x1="48.8" y1="149.5" x2="48.8" y2="151.5" stroke="#222" stroke-width="1"/>
<text x="48.8" y="158.39999999999998" font-size="5.9" text-anchor="middle" font-weight="normal" fill="#333" stroke="#333" stroke-width="0.08">-0.2</text>
<line x1="70.44" y1="149.5" x2="70.44" y2="151.5" stroke="#222" stroke-width="1"/>
<text x="70.44" y="158.39999999999998" font-size="5.9" text-anchor="middle" font-weight="normal" fill="#333" stroke="#333" stroke-width="0.08">0.0</text>
<line x1="92.08" y1="149.5" x2="92.08" y2="151.5" stroke="#222" stroke-width="1"/>
<text x="92.08" y="158.39999999999998" font-size="5.9" text-anchor="middle" font-weight="normal" fill="#333" stroke="#333" stroke-width="0.08">0.2</text>
<line x1="113.72000000000001" y1="149.5" x2="113.72000000000001" y2="151.5" stroke="#222" stroke-width="1"/>
<text x="113.72000000000001" y="158.39999999999998" font-size="5.9" text-anchor="middle" font-weight="normal" fill="#333" stroke="#333" stroke-width="0.08">0.4</text>
<line x1="135.36" y1="149.5" x2="135.36" y2="151.5" stroke="#222" stroke-width="1"/>
<text x="135.36" y="158.39999999999998" font-size="5.9" text-anchor="middle" font-weight="normal" fill="#333" stroke="#333" stroke-width="0.08">0.6</text>
<line x1="157.0" y1="149.5" x2="157.0" y2="151.5" stroke="#222" stroke-width="1"/>
<text x="157.0" y="158.39999999999998" font-size="5.9" text-anchor="middle" font-weight="normal" fill="#333" stroke="#333" stroke-width="0.08">0.8</text>
<line x1="178.64000000000004" y1="149.5" x2="178.64000000000004" y2="151.5" stroke="#222" stroke-width="1"/>
<text x="178.64000000000004" y="158.39999999999998" font-size="5.9" text-anchor="middle" font-weight="normal" fill="#333" stroke="#333" stroke-width="0.08">1.0</text>
<line x1="200.28000000000003" y1="149.5" x2="200.28000000000003" y2="151.5" stroke="#222" stroke-width="1"/>
<text x="200.28000000000003" y="158.39999999999998" font-size="5.9" text-anchor="middle" font-weight="normal" fill="#333" stroke="#333" stroke-width="0.08">1.2</text>
<path d="M48.80,146.91 L49.50,146.86 L50.20,146.79 L50.90,146.71 L51.60,146.63 L52.30,146.53 L53.00,146.41 L53.70,146.28 L54.40,146.13 L55.10,145.96 L55.80,145.75 L56.50,145.51 L57.20,145.34 L57.90,144.97 L58.60,144.77 L59.30,144.41 L60.00,143.97 L60.70,143.70 L61.40,143.13 L62.10,142.81 L62.80,142.16 L63.50,141.63 L64.20,141.23 L64.90,140.86 L65.60,139.81 L66.30,139.20 L67.00,138.79 L67.70,138.33 L68.40,137.29 L69.10,136.35 L69.80,136.12 L70.50,134.34 L71.20,134.40 L71.90,132.89 L72.60,131.86 L73.30,130.97 L74.00,130.34 L74.70,130.10 L75.40,128.49 L76.10,128.14 L76.80,127.40 L77.50,126.29 L78.20,125.74 L78.90,124.43 L79.60,123.74 L80.30,123.26 L81.00,123.22 L81.70,122.34 L82.40,121.69 L83.10,121.54 L83.80,120.96 L84.50,120.40 L85.20,120.67 L85.90,120.29 L86.60,119.52 L87.30,119.74 L88.00,119.55 L88.70,119.88 L89.40,119.65 L90.10,119.10 L90.80,119.93 L91.50,118.92 L92.20,119.33 L92.90,119.83 L93.60,119.23 L94.30,119.81 L95.00,119.49 L95.70,120.52 L96.40,120.95 L97.10,121.09 L97.80,121.88 L98.50,121.68 L99.20,122.65 L99.90,123.10 L100.60,123.69 L101.30,124.20 L102.00,125.35 L102.70,126.21 L103.40,126.40 L104.10,127.42 L104.80,127.50 L105.50,129.10 L106.20,129.88 L106.90,131.15 L107.60,131.80 L108.30,132.02 L109.00,132.99 L109.70,134.17 L110.40,134.30 L111.10,135.59 L111.80,136.12 L112.50,136.88 L113.20,137.60 L113.90,138.88 L114.60,139.12 L115.30,139.88 L116.00,140.60 L116.70,141.45 L117.40,141.62 L118.10,142.31 L118.80,142.84 L119.50,143.41 L120.20,143.79 L120.90,144.18 L121.60,144.38 L122.30,144.74 L123.00,145.02 L123.70,145.37 L124.40,145.62 L125.10,145.72 L125.80,145.96 L126.50,146.13 L127.20,146.28 L127.90,146.41 L128.60,146.52 L129.30,146.62 L130.00,146.71 L130.70,146.79 L131.40,146.86 L132.10,146.91 L132.80,146.96 L133.50,147.00 L134.20,147.04 L134.90,147.06 L135.60,147.09 L136.30,147.11 L137.00,147.13 L137.70,147.14 L138.40,147.15 L139.10,147.16 L139.80,147.17 L140.50,147.18 L141.20,147.18 L141.90,147.18 L142.60,147.19 L143.30,147.19 L144.00,147.19 L144.70,147.19 L145.40,147.20 L146.10,147.20 L146.80,147.20 L147.50,147.20 L148.20,147.20 L148.90,147.20 L149.60,147.20 L150.30,147.20 L151.00,147.20 L151.70,147.20 L152.40,147.20 L153.10,147.20 L153.80,147.20 L154.50,147.20 L155.20,147.20 L155.90,147.20 L156.60,147.20 L157.30,147.20 L158.00,147.20 L158.70,147.20 L159.40,147.20 L160.10,147.20 L160.80,147.20 L161.50,147.20 L162.20,147.20 L162.90,147.20 L163.60,147.20 L164.30,147.20 L165.00,147.20 L165.70,147.20 L166.40,147.20 L167.10,147.20 L167.80,147.20 L168.50,147.20 L169.20,147.20 L169.90,147.20 L170.60,147.20 L171.30,147.20 L172.00,147.20 L172.70,147.20 L173.40,147.20 L174.10,147.20 L174.80,147.20 L175.50,147.20 L176.20,147.20 L176.90,147.20 L177.60,147.20 L178.30,147.20 L179.00,147.20 L179.70,147.20 L180.40,147.20 L181.10,147.20 L181.80,147.20 L182.50,147.20 L183.20,147.20 L183.90,147.20 L184.60,147.20 L185.30,147.20 L186.00,147.20 L186.70,147.20 L187.40,147.20 L188.10,147.20 L188.80,147.20 L189.50,147.20 L190.20,147.20 L190.90,147.20 L191.60,147.20 L192.30,147.20 L193.00,147.20 L193.70,147.20 L194.40,147.20 L195.10,147.20 L195.80,147.20 L196.50,147.20 L197.20,147.20 L197.90,147.20 L198.60,147.20 L199.30,147.20 L200.00,147.20" fill="none" stroke="rgb(232,30,38)" stroke-width="2.0" stroke-linejoin="round"/>
<path d="M48.80,147.20 L49.50,147.20 L50.20,147.20 L50.90,147.20 L51.60,147.20 L52.30,147.20 L53.00,147.20 L53.70,147.20 L54.40,147.20 L55.10,147.20 L55.80,147.20 L56.50,147.20 L57.20,147.20 L57.90,147.20 L58.60,147.20 L59.30,147.20 L60.00,147.20 L60.70,147.20 L61.40,147.20 L62.10,147.20 L62.80,147.20 L63.50,147.20 L64.20,147.20 L64.90,147.20 L65.60,147.20 L66.30,147.20 L67.00,147.20 L67.70,147.20 L68.40,147.20 L69.10,147.20 L69.80,147.20 L70.50,147.20 L71.20,147.20 L71.90,147.20 L72.60,147.19 L73.30,147.19 L74.00,147.19 L74.70,147.19 L75.40,147.19 L76.10,147.19 L76.80,147.18 L77.50,147.18 L78.20,147.17 L78.90,147.17 L79.60,147.16 L80.30,147.16 L81.00,147.15 L81.70,147.14 L82.40,147.13 L83.10,147.12 L83.80,147.10 L84.50,147.09 L85.20,147.07 L85.90,147.04 L86.60,147.02 L87.30,146.99 L88.00,146.96 L88.70,146.92 L89.40,146.88 L90.10,146.83 L90.80,146.77 L91.50,146.71 L92.20,146.64 L92.90,146.56 L93.60,146.47 L94.30,146.37 L95.00,146.26 L95.70,146.14 L96.40,146.00 L97.10,145.81 L97.80,145.64 L98.50,145.45 L99.20,145.29 L99.90,145.08 L100.60,144.77 L101.30,144.44 L102.00,144.24 L102.70,143.91 L103.40,143.63 L104.10,143.39 L104.80,142.91 L105.50,142.42 L106.20,142.01 L106.90,141.55 L107.60,140.70 L108.30,140.62 L109.00,139.97 L109.70,139.43 L110.40,138.73 L111.10,137.73 L111.80,137.01 L112.50,135.96 L113.20,135.68 L113.90,134.25 L114.60,133.38 L115.30,132.65 L116.00,131.69 L116.70,130.98 L117.40,129.68 L118.10,128.66 L118.80,127.86 L119.50,126.81 L120.20,126.13 L120.90,124.72 L121.60,124.74 L122.30,123.43 L123.00,121.89 L123.70,121.05 L124.40,120.21 L125.10,119.30 L125.80,118.12 L126.50,118.13 L127.20,117.48 L127.90,116.06 L128.60,115.35 L129.30,114.19 L130.00,113.59 L130.70,113.31 L131.40,112.72 L132.10,112.96 L132.80,111.79 L133.50,111.33 L134.20,112.22 L134.90,111.57 L135.60,111.04 L136.30,111.52 L137.00,110.98 L137.70,111.74 L138.40,112.51 L139.10,112.68 L139.80,112.86 L140.50,112.78 L141.20,113.42 L141.90,113.75 L142.60,115.11 L143.30,115.51 L144.00,116.54 L144.70,116.79 L145.40,117.49 L146.10,119.07 L146.80,120.18 L147.50,120.95 L148.20,121.85 L148.90,122.83 L149.60,123.72 L150.30,124.10 L151.00,125.45 L151.70,126.26 L152.40,126.86 L153.10,127.85 L153.80,129.13 L154.50,130.07 L155.20,131.53 L155.90,132.77 L156.60,133.06 L157.30,134.50 L158.00,135.36 L158.70,136.11 L159.40,136.32 L160.10,136.96 L160.80,137.70 L161.50,138.38 L162.20,139.05 L162.90,139.96 L163.60,140.70 L164.30,141.20 L165.00,141.52 L165.70,142.09 L166.40,142.60 L167.10,142.74 L167.80,143.34 L168.50,143.78 L169.20,144.07 L169.90,144.37 L170.60,144.59 L171.30,144.79 L172.00,145.15 L172.70,145.29 L173.40,145.56 L174.10,145.76 L174.80,145.86 L175.50,146.02 L176.20,146.15 L176.90,146.28 L177.60,146.39 L178.30,146.48 L179.00,146.57 L179.70,146.65 L180.40,146.72 L181.10,146.78 L181.80,146.83 L182.50,146.88 L183.20,146.92 L183.90,146.96 L184.60,146.99 L185.30,147.02 L186.00,147.05 L186.70,147.07 L187.40,147.09 L188.10,147.10 L188.80,147.12 L189.50,147.13 L190.20,147.14 L190.90,147.15 L191.60,147.16 L192.30,147.16 L193.00,147.17 L193.70,147.17 L194.40,147.18 L195.10,147.18 L195.80,147.19 L196.50,147.19 L197.20,147.19 L197.90,147.19 L198.60,147.19 L199.30,147.19 L200.00,147.20" fill="none" stroke="rgb(128,128,128)" stroke-width="2.0" stroke-linejoin="round"/>
<path d="M91.00,118.80 L92.32,120.67 L94.18,121.34 L95.90,121.34 L97.73,122.80 L99.50,124.30 L100.87,126.69 L102.34,127.29 L104.00,126.59 L105.50,128.28 L107.18,128.82 L108.81,128.30 L110.20,127.70 L111.97,127.82 L113.50,126.26 L114.76,125.32 L116.13,126.33 L117.70,124.50 L119.14,123.07 L120.75,122.49 L122.36,120.05 L123.80,119.64 L125.31,118.17 L126.62,115.71 L128.00,114.50 L129.65,113.11 L131.37,111.47 L132.90,110.77 L134.57,108.48 L136.00,107.34 L137.45,105.35 L138.90,105.32 L140.39,102.54 L142.00,99.92 L143.18,96.64 L144.45,92.89 L145.90,87.54 L147.23,85.42 L148.72,81.43 L150.18,78.43 L151.40,75.55 L152.84,69.74 L154.10,65.78 L155.41,60.96 L156.89,55.99 L158.20,54.20 L159.81,51.53 L160.90,52.30" fill="none" stroke="#111" stroke-width="1.8" stroke-linejoin="round"/>
<line x1="48.6" y1="147.2" x2="128.3" y2="147.2" stroke="rgb(48,78,168)" stroke-width="2"/>
<line x1="128.3" y1="147.2" x2="164.4" y2="147.2" stroke="rgb(232,30,38)" stroke-width="2"/>
<line x1="164.4" y1="147.2" x2="184.6" y2="147.2" stroke="rgb(128,128,128)" stroke-width="2"/>
<line x1="184.6" y1="147.2" x2="200.4" y2="147.2" stroke="rgb(48,78,168)" stroke-width="2"/>
<path d="M48.80,147.20 L49.50,147.20 L50.20,147.20 L50.90,147.20 L51.60,147.20 L52.30,147.20 L53.00,147.20 L53.70,147.20 L54.40,147.20 L55.10,147.20 L55.80,147.20 L56.50,147.20 L57.20,147.20 L57.90,147.20 L58.60,147.20 L59.30,147.20 L60.00,147.20 L60.70,147.20 L61.40,147.20 L62.10,147.20 L62.80,147.20 L63.50,147.20 L64.20,147.20 L64.90,147.20 L65.60,147.20 L66.30,147.20 L67.00,147.20 L67.70,147.20 L68.40,147.20 L69.10,147.20 L69.80,147.20 L70.50,147.20 L71.20,147.20 L71.90,147.20 L72.60,147.20 L73.30,147.20 L74.00,147.20 L74.70,147.20 L75.40,147.20 L76.10,147.20 L76.80,147.20 L77.50,147.20 L78.20,147.20 L78.90,147.20 L79.60,147.20 L80.30,147.20 L81.00,147.20 L81.70,147.20 L82.40,147.20 L83.10,147.20 L83.80,147.20 L84.50,147.20 L85.20,147.20 L85.90,147.20 L86.60,147.20 L87.30,147.20 L88.00,147.20 L88.70,147.20 L89.40,147.20 L90.10,147.20 L90.80,147.20 L91.50,147.20 L92.20,147.20 L92.90,147.20 L93.60,147.20 L94.30,147.20 L95.00,147.20 L95.70,147.20 L96.40,147.20 L97.10,147.20 L97.80,147.20 L98.50,147.20 L99.20,147.20 L99.90,147.20 L100.60,147.20 L101.30,147.20 L102.00,147.20 L102.70,147.20 L103.40,147.20 L104.10,147.20 L104.80,147.20 L105.50,147.20 L106.20,147.20 L106.90,147.20 L107.60,147.20 L108.30,147.20 L109.00,147.20 L109.70,147.20 L110.40,147.20 L111.10,147.20 L111.80,147.20 L112.50,147.20 L113.20,147.20 L113.90,147.20 L114.60,147.19 L115.30,147.19 L116.00,147.19 L116.70,147.19 L117.40,147.18 L118.10,147.18 L118.80,147.17 L119.50,147.16 L120.20,147.15 L120.90,147.13 L121.60,147.12 L122.30,147.09 L123.00,147.06 L123.70,147.03 L124.40,146.98 L125.10,146.93 L125.80,146.86 L126.50,146.77 L127.20,146.67 L127.90,146.55 L128.60,146.40 L129.30,146.22 L130.00,146.01 L130.70,145.76 L131.40,145.50 L132.10,145.12 L132.80,144.66 L133.50,144.23 L134.20,143.69 L134.90,143.13 L135.60,142.13 L136.30,141.49 L137.00,140.36 L137.70,139.28 L138.40,138.44 L139.10,136.88 L139.80,135.43 L140.50,134.00 L141.20,132.36 L141.90,129.79 L142.60,127.80 L143.30,125.30 L144.00,122.76 L144.70,120.24 L145.40,117.04 L146.10,114.07 L146.80,110.77 L147.50,107.95 L148.20,104.15 L148.90,100.76 L149.60,97.15 L150.30,92.59 L151.00,89.18 L151.70,85.87 L152.40,82.02 L153.10,77.53 L153.80,73.97 L154.50,70.96 L155.20,67.31 L155.90,64.53 L156.60,61.59 L157.30,59.87 L158.00,57.88 L158.70,56.23 L159.40,53.93 L160.10,53.57 L160.80,52.87 L161.50,52.02 L162.20,53.08 L162.90,53.77 L163.60,53.85 L164.30,56.10 L165.00,57.17 L165.70,59.36 L166.40,62.37 L167.10,64.88 L167.80,67.03 L168.50,70.53 L169.20,74.00 L169.90,77.31 L170.60,80.78 L171.30,84.65 L172.00,88.89 L172.70,91.82 L173.40,96.21 L174.10,99.77 L174.80,102.89 L175.50,106.78 L176.20,110.52 L176.90,113.64 L177.60,116.20 L178.30,120.23 L179.00,122.75 L179.70,125.55 L180.40,126.90 L181.10,129.31 L181.80,131.07 L182.50,133.81 L183.20,134.93 L183.90,136.35 L184.60,138.00 L185.30,139.57 L186.00,140.57 L186.70,141.22 L187.40,142.05 L188.10,143.10 L188.80,143.62 L189.50,144.21 L190.20,144.55 L190.90,144.98 L191.60,145.45 L192.30,145.71 L193.00,145.98 L193.70,146.20 L194.40,146.38 L195.10,146.53 L195.80,146.66 L196.50,146.76 L197.20,146.85 L197.90,146.92 L198.60,146.97 L199.30,147.02 L200.00,147.06" fill="none" stroke="rgb(48,78,168)" stroke-width="2.0" stroke-linejoin="round"/>
<line x1="128.3" y1="147.2" x2="164.4" y2="147.2" stroke="rgb(232,30,38)" stroke-width="2"/>
<line x1="164.4" y1="147.2" x2="184.6" y2="147.2" stroke="rgb(128,128,128)" stroke-width="2"/>
<text x="86.30" y="117.1" font-size="10" fill="#222" stroke="#222" stroke-width="0.15">R<tspan font-size="7" dy="-2.2">*</tspan></text>
<text x="123.70" y="108.3" font-size="10" fill="#222" stroke="#222" stroke-width="0.15">R'</text>
<text x="157.40" y="49.5" font-size="10" fill="#222" stroke="#222" stroke-width="0.15">R</text>
<text x="82.5" y="136.8" font-size="10.1" text-anchor="start" font-weight="bold" fill="#222" stroke="#222" stroke-width="0.05">20%</text>
<text x="120.8" y="137.1" font-size="10.1" text-anchor="start" font-weight="bold" fill="#222" stroke="#222" stroke-width="0.05">26%</text>
<text x="157.2" y="137.1" font-size="10.1" text-anchor="start" font-weight="bold" fill="#222" stroke="#222" stroke-width="0.05">54%</text>
<line x1="48.9" y1="198.4" x2="48.9" y2="306.1" stroke="#222" stroke-width="1.4"/>
<line x1="48.199999999999996" y1="305.3" x2="200.77999999999997" y2="305.3" stroke="#222" stroke-width="1.4"/>
<line x1="46.9" y1="303.0" x2="48.9" y2="303.0" stroke="#222" stroke-width="1"/>
<text x="45.199999999999996" y="305.1" font-size="5.9" text-anchor="end" font-weight="normal" fill="#333" stroke="#333" stroke-width="0.08">0.0</text>
<line x1="46.9" y1="282.2" x2="48.9" y2="282.2" stroke="#222" stroke-width="1"/>
<text x="45.199999999999996" y="284.3" font-size="5.9" text-anchor="end" font-weight="normal" fill="#333" stroke="#333" stroke-width="0.08">0.5</text>
<line x1="46.9" y1="261.4" x2="48.9" y2="261.4" stroke="#222" stroke-width="1"/>
<text x="45.199999999999996" y="263.5" font-size="5.9" text-anchor="end" font-weight="normal" fill="#333" stroke="#333" stroke-width="0.08">1.0</text>
<line x1="46.9" y1="240.6" x2="48.9" y2="240.6" stroke="#222" stroke-width="1"/>
<text x="45.199999999999996" y="242.7" font-size="5.9" text-anchor="end" font-weight="normal" fill="#333" stroke="#333" stroke-width="0.08">1.5</text>
<line x1="46.9" y1="219.8" x2="48.9" y2="219.8" stroke="#222" stroke-width="1"/>
<text x="45.199999999999996" y="221.9" font-size="5.9" text-anchor="end" font-weight="normal" fill="#333" stroke="#333" stroke-width="0.08">2.0</text>
<line x1="46.9" y1="199.0" x2="48.9" y2="199.0" stroke="#222" stroke-width="1"/>
<text x="45.199999999999996" y="201.1" font-size="5.9" text-anchor="end" font-weight="normal" fill="#333" stroke="#333" stroke-width="0.08">2.5</text>
<line x1="48.8" y1="305.3" x2="48.8" y2="307.3" stroke="#222" stroke-width="1"/>
<text x="48.8" y="314.2" font-size="5.9" text-anchor="middle" font-weight="normal" fill="#333" stroke="#333" stroke-width="0.08">-0.2</text>
<line x1="70.44" y1="305.3" x2="70.44" y2="307.3" stroke="#222" stroke-width="1"/>
<text x="70.44" y="314.2" font-size="5.9" text-anchor="middle" font-weight="normal" fill="#333" stroke="#333" stroke-width="0.08">0.0</text>
<line x1="92.08" y1="305.3" x2="92.08" y2="307.3" stroke="#222" stroke-width="1"/>
<text x="92.08" y="314.2" font-size="5.9" text-anchor="middle" font-weight="normal" fill="#333" stroke="#333" stroke-width="0.08">0.2</text>
<line x1="113.72000000000001" y1="305.3" x2="113.72000000000001" y2="307.3" stroke="#222" stroke-width="1"/>
<text x="113.72000000000001" y="314.2" font-size="5.9" text-anchor="middle" font-weight="normal" fill="#333" stroke="#333" stroke-width="0.08">0.4</text>
<line x1="135.36" y1="305.3" x2="135.36" y2="307.3" stroke="#222" stroke-width="1"/>
<text x="135.36" y="314.2" font-size="5.9" text-anchor="middle" font-weight="normal" fill="#333" stroke="#333" stroke-width="0.08">0.6</text>
<line x1="157.0" y1="305.3" x2="157.0" y2="307.3" stroke="#222" stroke-width="1"/>
<text x="157.0" y="314.2" font-size="5.9" text-anchor="middle" font-weight="normal" fill="#333" stroke="#333" stroke-width="0.08">0.8</text>
<line x1="178.64000000000004" y1="305.3" x2="178.64000000000004" y2="307.3" stroke="#222" stroke-width="1"/>
<text x="178.64000000000004" y="314.2" font-size="5.9" text-anchor="middle" font-weight="normal" fill="#333" stroke="#333" stroke-width="0.08">1.0</text>
<line x1="200.28000000000003" y1="305.3" x2="200.28000000000003" y2="307.3" stroke="#222" stroke-width="1"/>
<text x="200.28000000000003" y="314.2" font-size="5.9" text-anchor="middle" font-weight="normal" fill="#333" stroke="#333" stroke-width="0.08">1.2</text>
<path d="M48.80,302.90 L49.50,302.87 L50.20,302.83 L50.90,302.78 L51.60,302.72 L52.30,302.64 L53.00,302.55 L53.70,302.43 L54.40,302.29 L55.10,302.13 L55.80,301.92 L56.50,301.63 L57.20,301.46 L57.90,301.08 L58.60,300.73 L59.30,300.11 L60.00,299.79 L60.70,298.93 L61.40,298.53 L62.10,297.58 L62.80,296.63 L63.50,295.77 L64.20,294.94 L64.90,293.22 L65.60,291.73 L66.30,290.65 L67.00,288.73 L67.70,286.86 L68.40,285.10 L69.10,283.02 L69.80,281.14 L70.50,279.10 L71.20,276.83 L71.90,275.03 L72.60,272.04 L73.30,269.81 L74.00,266.90 L74.70,264.55 L75.40,261.60 L76.10,259.33 L76.80,256.52 L77.50,254.91 L78.20,252.28 L78.90,249.53 L79.60,247.65 L80.30,246.09 L81.00,243.12 L81.70,242.15 L82.40,240.00 L83.10,238.56 L83.80,237.62 L84.50,235.91 L85.20,235.04 L85.90,234.43 L86.60,234.11 L87.30,232.83 L88.00,233.05 L88.70,232.67 L89.40,232.47 L90.10,232.17 L90.80,232.12 L91.50,231.87 L92.20,232.18 L92.90,232.46 L93.60,233.77 L94.30,233.84 L95.00,234.55 L95.70,235.44 L96.40,237.51 L97.10,238.88 L97.80,240.14 L98.50,241.34 L99.20,243.11 L99.90,245.13 L100.60,247.43 L101.30,249.28 L102.00,251.94 L102.70,254.12 L103.40,257.43 L104.10,259.96 L104.80,261.99 L105.50,264.19 L106.20,267.61 L106.90,269.35 L107.60,271.89 L108.30,273.90 L109.00,276.71 L109.70,279.09 L110.40,281.30 L111.10,283.01 L111.80,285.33 L112.50,286.57 L113.20,288.60 L113.90,290.04 L114.60,291.86 L115.30,292.91 L116.00,294.18 L116.70,295.51 L117.40,296.49 L118.10,297.57 L118.80,298.33 L119.50,299.10 L120.20,299.68 L120.90,300.22 L121.60,300.71 L122.30,301.01 L123.00,301.34 L123.70,301.72 L124.40,301.90 L125.10,302.11 L125.80,302.28 L126.50,302.42 L127.20,302.54 L127.90,302.63 L128.60,302.71 L129.30,302.77 L130.00,302.82 L130.70,302.86 L131.40,302.89 L132.10,302.92 L132.80,302.94 L133.50,302.95 L134.20,302.97 L134.90,302.97 L135.60,302.98 L136.30,302.99 L137.00,302.99 L137.70,302.99 L138.40,302.99 L139.10,303.00 L139.80,303.00 L140.50,303.00 L141.20,303.00 L141.90,303.00 L142.60,303.00 L143.30,303.00 L144.00,303.00 L144.70,303.00 L145.40,303.00 L146.10,303.00 L146.80,303.00 L147.50,303.00 L148.20,303.00 L148.90,303.00 L149.60,303.00 L150.30,303.00 L151.00,303.00 L151.70,303.00 L152.40,303.00 L153.10,303.00 L153.80,303.00 L154.50,303.00 L155.20,303.00 L155.90,303.00 L156.60,303.00 L157.30,303.00 L158.00,303.00 L158.70,303.00 L159.40,303.00 L160.10,303.00 L160.80,303.00 L161.50,303.00 L162.20,303.00 L162.90,303.00 L163.60,303.00 L164.30,303.00 L165.00,303.00 L165.70,303.00 L166.40,303.00 L167.10,303.00 L167.80,303.00 L168.50,303.00 L169.20,303.00 L169.90,303.00 L170.60,303.00 L171.30,303.00 L172.00,303.00 L172.70,303.00 L173.40,303.00 L174.10,303.00 L174.80,303.00 L175.50,303.00 L176.20,303.00 L176.90,303.00 L177.60,303.00 L178.30,303.00 L179.00,303.00 L179.70,303.00 L180.40,303.00 L181.10,303.00 L181.80,303.00 L182.50,303.00 L183.20,303.00 L183.90,303.00 L184.60,303.00 L185.30,303.00 L186.00,303.00 L186.70,303.00 L187.40,303.00 L188.10,303.00 L188.80,303.00 L189.50,303.00 L190.20,303.00 L190.90,303.00 L191.60,303.00 L192.30,303.00 L193.00,303.00 L193.70,303.00 L194.40,303.00 L195.10,303.00 L195.80,303.00 L196.50,303.00 L197.20,303.00 L197.90,303.00 L198.60,303.00 L199.30,303.00 L200.00,303.00" fill="none" stroke="rgb(232,30,38)" stroke-width="2.0" stroke-linejoin="round"/>
<path d="M48.80,303.00 L49.50,303.00 L50.20,303.00 L50.90,303.00 L51.60,303.00 L52.30,303.00 L53.00,303.00 L53.70,303.00 L54.40,303.00 L55.10,303.00 L55.80,303.00 L56.50,303.00 L57.20,303.00 L57.90,303.00 L58.60,303.00 L59.30,303.00 L60.00,303.00 L60.70,303.00 L61.40,303.00 L62.10,303.00 L62.80,303.00 L63.50,303.00 L64.20,303.00 L64.90,303.00 L65.60,303.00 L66.30,303.00 L67.00,303.00 L67.70,303.00 L68.40,303.00 L69.10,303.00 L69.80,303.00 L70.50,303.00 L71.20,303.00 L71.90,303.00 L72.60,303.00 L73.30,303.00 L74.00,303.00 L74.70,303.00 L75.40,303.00 L76.10,303.00 L76.80,303.00 L77.50,303.00 L78.20,303.00 L78.90,303.00 L79.60,302.99 L80.30,302.99 L81.00,302.99 L81.70,302.99 L82.40,302.99 L83.10,302.98 L83.80,302.98 L84.50,302.98 L85.20,302.97 L85.90,302.96 L86.60,302.96 L87.30,302.95 L88.00,302.93 L88.70,302.92 L89.40,302.90 L90.10,302.88 L90.80,302.86 L91.50,302.83 L92.20,302.80 L92.90,302.76 L93.60,302.72 L94.30,302.67 L95.00,302.61 L95.70,302.54 L96.40,302.46 L97.10,302.37 L97.80,302.27 L98.50,302.15 L99.20,302.02 L99.90,301.87 L100.60,301.66 L101.30,301.54 L102.00,301.32 L102.70,300.98 L103.40,300.86 L104.10,300.59 L104.80,300.22 L105.50,299.90 L106.20,299.55 L106.90,298.91 L107.60,298.59 L108.30,298.09 L109.00,297.72 L109.70,297.15 L110.40,296.58 L111.10,295.80 L111.80,295.34 L112.50,294.49 L113.20,293.76 L113.90,292.59 L114.60,291.56 L115.30,290.79 L116.00,290.14 L116.70,288.94 L117.40,288.90 L118.10,287.65 L118.80,286.80 L119.50,285.87 L120.20,285.01 L120.90,283.87 L121.60,282.39 L122.30,282.47 L123.00,281.56 L123.70,280.46 L124.40,279.73 L125.10,279.16 L125.80,277.78 L126.50,277.98 L127.20,276.87 L127.90,276.19 L128.60,276.02 L129.30,276.27 L130.00,275.41 L130.70,275.90 L131.40,276.12 L132.10,275.56 L132.80,275.53 L133.50,275.84 L134.20,276.36 L134.90,276.81 L135.60,277.06 L136.30,277.60 L137.00,277.49 L137.70,278.21 L138.40,279.03 L139.10,280.36 L139.80,280.62 L140.50,281.77 L141.20,281.96 L141.90,282.91 L142.60,284.07 L143.30,285.47 L144.00,286.42 L144.70,287.33 L145.40,287.79 L146.10,288.98 L146.80,289.82 L147.50,290.70 L148.20,291.22 L148.90,292.78 L149.60,292.97 L150.30,294.36 L151.00,295.04 L151.70,295.10 L152.40,296.06 L153.10,296.88 L153.80,297.52 L154.50,297.81 L155.20,298.25 L155.90,298.71 L156.60,299.39 L157.30,299.56 L158.00,300.04 L158.70,300.27 L159.40,300.66 L160.10,301.01 L160.80,301.12 L161.50,301.45 L162.20,301.61 L162.90,301.79 L163.60,301.95 L164.30,302.09 L165.00,302.21 L165.70,302.32 L166.40,302.42 L167.10,302.50 L167.80,302.58 L168.50,302.64 L169.20,302.69 L169.90,302.74 L170.60,302.78 L171.30,302.82 L172.00,302.85 L172.70,302.87 L173.40,302.89 L174.10,302.91 L174.80,302.93 L175.50,302.94 L176.20,302.95 L176.90,302.96 L177.60,302.97 L178.30,302.97 L179.00,302.98 L179.70,302.98 L180.40,302.99 L181.10,302.99 L181.80,302.99 L182.50,302.99 L183.20,302.99 L183.90,303.00 L184.60,303.00 L185.30,303.00 L186.00,303.00 L186.70,303.00 L187.40,303.00 L188.10,303.00 L188.80,303.00 L189.50,303.00 L190.20,303.00 L190.90,303.00 L191.60,303.00 L192.30,303.00 L193.00,303.00 L193.70,303.00 L194.40,303.00 L195.10,303.00 L195.80,303.00 L196.50,303.00 L197.20,303.00 L197.90,303.00 L198.60,303.00 L199.30,303.00 L200.00,303.00" fill="none" stroke="rgb(128,128,128)" stroke-width="2.0" stroke-linejoin="round"/>
<path d="M90.50,233.17 L91.56,233.56 L93.06,233.71 L94.50,236.30 L96.28,237.42 L98.00,239.05 L99.73,242.60 L101.50,247.98 L102.67,251.33 L103.89,254.80 L105.40,258.28 L106.54,261.04 L107.82,263.47 L109.18,266.95 L110.56,267.49 L111.90,270.80 L113.51,272.61 L115.11,272.30 L116.70,274.73 L118.30,275.03 L119.97,276.04 L121.68,275.26 L123.30,275.73 L124.70,275.99 L126.28,277.32 L128.20,276.18 L129.24,275.56 L130.52,275.51 L131.93,275.00 L133.41,274.29 L134.85,274.08 L136.18,275.15 L137.30,273.57 L139.24,273.23 L140.70,269.83 L142.10,268.13 L143.44,267.65 L144.73,266.32 L146.40,265.55 L147.78,265.54 L149.41,263.95 L151.13,262.24 L152.78,260.40 L154.20,259.73 L156.08,258.30 L157.62,256.39 L159.00,255.74 L160.95,252.92 L162.30,252.80" fill="none" stroke="#111" stroke-width="1.8" stroke-linejoin="round"/>
<line x1="48.6" y1="303.0" x2="128.3" y2="303.0" stroke="rgb(48,78,168)" stroke-width="2"/>
<line x1="128.3" y1="303.0" x2="157.5" y2="303.0" stroke="rgb(232,30,38)" stroke-width="2"/>
<line x1="157.5" y1="303.0" x2="182" y2="303.0" stroke="rgb(128,128,128)" stroke-width="2"/>
<line x1="182" y1="303.0" x2="200.4" y2="303.0" stroke="rgb(48,78,168)" stroke-width="2"/>
<path d="M48.80,303.00 L49.50,303.00 L50.20,303.00 L50.90,303.00 L51.60,303.00 L52.30,303.00 L53.00,303.00 L53.70,303.00 L54.40,303.00 L55.10,303.00 L55.80,303.00 L56.50,303.00 L57.20,303.00 L57.90,303.00 L58.60,303.00 L59.30,303.00 L60.00,303.00 L60.70,303.00 L61.40,303.00 L62.10,303.00 L62.80,303.00 L63.50,303.00 L64.20,303.00 L64.90,303.00 L65.60,303.00 L66.30,303.00 L67.00,303.00 L67.70,303.00 L68.40,303.00 L69.10,303.00 L69.80,303.00 L70.50,303.00 L71.20,303.00 L71.90,303.00 L72.60,303.00 L73.30,303.00 L74.00,303.00 L74.70,303.00 L75.40,303.00 L76.10,303.00 L76.80,303.00 L77.50,303.00 L78.20,303.00 L78.90,303.00 L79.60,303.00 L80.30,303.00 L81.00,303.00 L81.70,303.00 L82.40,303.00 L83.10,303.00 L83.80,303.00 L84.50,303.00 L85.20,303.00 L85.90,303.00 L86.60,303.00 L87.30,303.00 L88.00,303.00 L88.70,303.00 L89.40,303.00 L90.10,303.00 L90.80,303.00 L91.50,303.00 L92.20,303.00 L92.90,303.00 L93.60,303.00 L94.30,303.00 L95.00,303.00 L95.70,303.00 L96.40,303.00 L97.10,303.00 L97.80,303.00 L98.50,303.00 L99.20,303.00 L99.90,303.00 L100.60,303.00 L101.30,303.00 L102.00,303.00 L102.70,303.00 L103.40,303.00 L104.10,303.00 L104.80,303.00 L105.50,303.00 L106.20,303.00 L106.90,303.00 L107.60,303.00 L108.30,303.00 L109.00,303.00 L109.70,303.00 L110.40,303.00 L111.10,303.00 L111.80,303.00 L112.50,303.00 L113.20,303.00 L113.90,302.99 L114.60,302.99 L115.30,302.99 L116.00,302.99 L116.70,302.99 L117.40,302.98 L118.10,302.98 L118.80,302.97 L119.50,302.96 L120.20,302.95 L120.90,302.94 L121.60,302.93 L122.30,302.91 L123.00,302.88 L123.70,302.86 L124.40,302.82 L125.10,302.78 L125.80,302.74 L126.50,302.68 L127.20,302.61 L127.90,302.53 L128.60,302.43 L129.30,302.31 L130.00,302.18 L130.70,302.02 L131.40,301.83 L132.10,301.65 L132.80,301.37 L133.50,301.13 L134.20,300.80 L134.90,300.35 L135.60,299.87 L136.30,299.64 L137.00,298.86 L137.70,298.39 L138.40,297.67 L139.10,296.91 L139.80,296.35 L140.50,295.64 L141.20,294.19 L141.90,293.45 L142.60,292.00 L143.30,291.03 L144.00,289.55 L144.70,287.89 L145.40,286.41 L146.10,284.92 L146.80,284.14 L147.50,281.96 L148.20,279.88 L148.90,278.91 L149.60,277.18 L150.30,274.66 L151.00,272.40 L151.70,270.58 L152.40,268.59 L153.10,267.04 L153.80,264.94 L154.50,263.38 L155.20,261.74 L155.90,260.55 L156.60,259.47 L157.30,257.97 L158.00,256.36 L158.70,255.32 L159.40,254.57 L160.10,253.68 L160.80,253.10 L161.50,252.43 L162.20,252.53 L162.90,253.40 L163.60,252.62 L164.30,253.49 L165.00,254.25 L165.70,255.31 L166.40,255.48 L167.10,256.66 L167.80,257.88 L168.50,259.45 L169.20,261.01 L169.90,263.23 L170.60,264.80 L171.30,266.59 L172.00,267.39 L172.70,269.26 L173.40,271.95 L174.10,274.06 L174.80,275.43 L175.50,277.43 L176.20,278.54 L176.90,280.79 L177.60,283.16 L178.30,284.70 L179.00,286.33 L179.70,287.98 L180.40,288.55 L181.10,289.77 L181.80,291.13 L182.50,292.67 L183.20,293.89 L183.90,295.08 L184.60,295.83 L185.30,296.62 L186.00,297.44 L186.70,297.99 L187.40,298.66 L188.10,299.05 L188.80,299.79 L189.50,300.09 L190.20,300.64 L190.90,300.93 L191.60,301.18 L192.30,301.43 L193.00,301.68 L193.70,301.91 L194.40,302.08 L195.10,302.23 L195.80,302.36 L196.50,302.47 L197.20,302.56 L197.90,302.64 L198.60,302.70 L199.30,302.76 L200.00,302.80" fill="none" stroke="rgb(48,78,168)" stroke-width="2.0" stroke-linejoin="round"/>
<line x1="128.3" y1="303.0" x2="157.5" y2="303.0" stroke="rgb(232,30,38)" stroke-width="2"/>
<line x1="157.5" y1="303.0" x2="182" y2="303.0" stroke="rgb(128,128,128)" stroke-width="2"/>
<text x="84.00" y="230.3" font-size="10" fill="#222" stroke="#222" stroke-width="0.15">R<tspan font-size="7" dy="-2.2">*</tspan></text>
<text x="124.00" y="271" font-size="10" fill="#222" stroke="#222" stroke-width="0.15">R'</text>
<text x="159.20" y="249.3" font-size="10" fill="#222" stroke="#222" stroke-width="0.15">R</text>
<text x="77.7" y="294.7" font-size="10.1" text-anchor="start" font-weight="bold" fill="#222" stroke="#222" stroke-width="0.05">48%</text>
<text x="117.3" y="294" font-size="10.1" text-anchor="start" font-weight="bold" fill="#222" stroke="#222" stroke-width="0.05">20%</text>
<text x="152.5" y="294" font-size="10.1" text-anchor="start" font-weight="bold" fill="#222" stroke="#222" stroke-width="0.05">31%</text>
<line x1="415.40000000000003" y1="42.74999999999999" x2="415.40000000000003" y2="149.70000000000002" stroke="#222" stroke-width="1.4"/>
<line x1="414.70000000000005" y1="148.9" x2="567.28" y2="148.9" stroke="#222" stroke-width="1.4"/>
<line x1="413.40000000000003" y1="146.6" x2="415.40000000000003" y2="146.6" stroke="#222" stroke-width="1"/>
<text x="411.70000000000005" y="148.7" font-size="5.9" text-anchor="end" font-weight="normal" fill="#333" stroke="#333" stroke-width="0.08">0.0</text>
<line x1="413.40000000000003" y1="125.94999999999999" x2="415.40000000000003" y2="125.94999999999999" stroke="#222" stroke-width="1"/>
<text x="411.70000000000005" y="128.04999999999998" font-size="5.9" text-anchor="end" font-weight="normal" fill="#333" stroke="#333" stroke-width="0.08">0.5</text>
<line x1="413.40000000000003" y1="105.3" x2="415.40000000000003" y2="105.3" stroke="#222" stroke-width="1"/>
<text x="411.70000000000005" y="107.39999999999999" font-size="5.9" text-anchor="end" font-weight="normal" fill="#333" stroke="#333" stroke-width="0.08">1.0</text>
<line x1="413.40000000000003" y1="84.65" x2="415.40000000000003" y2="84.65" stroke="#222" stroke-width="1"/>
<text x="411.70000000000005" y="86.75" font-size="5.9" text-anchor="end" font-weight="normal" fill="#333" stroke="#333" stroke-width="0.08">1.5</text>
<line x1="413.40000000000003" y1="64.0" x2="415.40000000000003" y2="64.0" stroke="#222" stroke-width="1"/>
<text x="411.70000000000005" y="66.1" font-size="5.9" text-anchor="end" font-weight="normal" fill="#333" stroke="#333" stroke-width="0.08">2.0</text>
<line x1="413.40000000000003" y1="43.349999999999994" x2="415.40000000000003" y2="43.349999999999994" stroke="#222" stroke-width="1"/>
<text x="411.70000000000005" y="45.449999999999996" font-size="5.9" text-anchor="end" font-weight="normal" fill="#333" stroke="#333" stroke-width="0.08">2.5</text>
<line x1="415.3" y1="148.9" x2="415.3" y2="150.9" stroke="#222" stroke-width="1"/>
<text x="415.3" y="157.79999999999998" font-size="5.9" text-anchor="middle" font-weight="normal" fill="#333" stroke="#333" stroke-width="0.08">-0.2</text>
<line x1="436.94" y1="148.9" x2="436.94" y2="150.9" stroke="#222" stroke-width="1"/>
<text x="436.94" y="157.79999999999998" font-size="5.9" text-anchor="middle" font-weight="normal" fill="#333" stroke="#333" stroke-width="0.08">0.0</text>
<line x1="458.58000000000004" y1="148.9" x2="458.58000000000004" y2="150.9" stroke="#222" stroke-width="1"/>
<text x="458.58000000000004" y="157.79999999999998" font-size="5.9" text-anchor="middle" font-weight="normal" fill="#333" stroke="#333" stroke-width="0.08">0.2</text>
<line x1="480.22" y1="148.9" x2="480.22" y2="150.9" stroke="#222" stroke-width="1"/>
<text x="480.22" y="157.79999999999998" font-size="5.9" text-anchor="middle" font-weight="normal" fill="#333" stroke="#333" stroke-width="0.08">0.4</text>
<line x1="501.86" y1="148.9" x2="501.86" y2="150.9" stroke="#222" stroke-width="1"/>
<text x="501.86" y="157.79999999999998" font-size="5.9" text-anchor="middle" font-weight="normal" fill="#333" stroke="#333" stroke-width="0.08">0.6</text>
<line x1="523.5" y1="148.9" x2="523.5" y2="150.9" stroke="#222" stroke-width="1"/>
<text x="523.5" y="157.79999999999998" font-size="5.9" text-anchor="middle" font-weight="normal" fill="#333" stroke="#333" stroke-width="0.08">0.8</text>
<line x1="545.1400000000001" y1="148.9" x2="545.1400000000001" y2="150.9" stroke="#222" stroke-width="1"/>
<text x="545.1400000000001" y="157.79999999999998" font-size="5.9" text-anchor="middle" font-weight="normal" fill="#333" stroke="#333" stroke-width="0.08">1.0</text>
<line x1="566.78" y1="148.9" x2="566.78" y2="150.9" stroke="#222" stroke-width="1"/>
<text x="566.78" y="157.79999999999998" font-size="5.9" text-anchor="middle" font-weight="normal" fill="#333" stroke="#333" stroke-width="0.08">1.2</text>
<path d="M415.30,146.53 L416.00,146.51 L416.70,146.49 L417.40,146.46 L418.10,146.43 L418.80,146.39 L419.50,146.35 L420.20,146.29 L420.90,146.22 L421.60,146.14 L422.30,146.04 L423.00,145.93 L423.70,145.80 L424.40,145.64 L425.10,145.46 L425.80,145.27 L426.50,145.04 L427.20,144.67 L427.90,144.33 L428.60,144.06 L429.30,143.67 L430.00,143.16 L430.70,142.59 L431.40,142.16 L432.10,141.27 L432.80,140.69 L433.50,140.01 L434.20,139.50 L434.90,138.41 L435.60,137.65 L436.30,136.28 L437.00,134.92 L437.70,133.74 L438.40,133.33 L439.10,131.72 L439.80,129.90 L440.50,128.16 L441.20,127.29 L441.90,126.04 L442.60,124.26 L443.30,122.57 L444.00,121.58 L444.70,120.43 L445.40,118.16 L446.10,116.55 L446.80,115.59 L447.50,114.44 L448.20,113.60 L448.90,111.96 L449.60,111.73 L450.30,110.84 L451.00,109.87 L451.70,108.97 L452.40,109.49 L453.10,108.46 L453.80,108.99 L454.50,108.36 L455.20,108.58 L455.90,109.61 L456.60,109.59 L457.30,111.05 L458.00,111.32 L458.70,111.89 L459.40,112.98 L460.10,114.37 L460.80,115.91 L461.50,117.57 L462.20,117.99 L462.90,119.71 L463.60,120.96 L464.30,123.35 L465.00,123.84 L465.70,125.21 L466.40,126.69 L467.10,128.52 L467.80,130.53 L468.50,131.86 L469.20,132.98 L469.90,134.50 L470.60,135.56 L471.30,136.08 L472.00,137.03 L472.70,138.57 L473.40,139.32 L474.10,139.72 L474.80,140.84 L475.50,141.40 L476.20,142.03 L476.90,142.60 L477.60,143.07 L478.30,143.50 L479.00,143.99 L479.70,144.37 L480.40,144.79 L481.10,144.94 L481.80,145.29 L482.50,145.45 L483.20,145.63 L483.90,145.79 L484.60,145.92 L485.30,146.04 L486.00,146.14 L486.70,146.22 L487.40,146.29 L488.10,146.34 L488.80,146.39 L489.50,146.43 L490.20,146.46 L490.90,146.49 L491.60,146.51 L492.30,146.53 L493.00,146.54 L493.70,146.56 L494.40,146.57 L495.10,146.57 L495.80,146.58 L496.50,146.58 L497.20,146.59 L497.90,146.59 L498.60,146.59 L499.30,146.59 L500.00,146.60 L500.70,146.60 L501.40,146.60 L502.10,146.60 L502.80,146.60 L503.50,146.60 L504.20,146.60 L504.90,146.60 L505.60,146.60 L506.30,146.60 L507.00,146.60 L507.70,146.60 L508.40,146.60 L509.10,146.60 L509.80,146.60 L510.50,146.60 L511.20,146.60 L511.90,146.60 L512.60,146.60 L513.30,146.60 L514.00,146.60 L514.70,146.60 L515.40,146.60 L516.10,146.60 L516.80,146.60 L517.50,146.60 L518.20,146.60 L518.90,146.60 L519.60,146.60 L520.30,146.60 L521.00,146.60 L521.70,146.60 L522.40,146.60 L523.10,146.60 L523.80,146.60 L524.50,146.60 L525.20,146.60 L525.90,146.60 L526.60,146.60 L527.30,146.60 L528.00,146.60 L528.70,146.60 L529.40,146.60 L530.10,146.60 L530.80,146.60 L531.50,146.60 L532.20,146.60 L532.90,146.60 L533.60,146.60 L534.30,146.60 L535.00,146.60 L535.70,146.60 L536.40,146.60 L537.10,146.60 L537.80,146.60 L538.50,146.60 L539.20,146.60 L539.90,146.60 L540.60,146.60 L541.30,146.60 L542.00,146.60 L542.70,146.60 L543.40,146.60 L544.10,146.60 L544.80,146.60 L545.50,146.60 L546.20,146.60 L546.90,146.60 L547.60,146.60 L548.30,146.60 L549.00,146.60 L549.70,146.60 L550.40,146.60 L551.10,146.60 L551.80,146.60 L552.50,146.60 L553.20,146.60 L553.90,146.60 L554.60,146.60 L555.30,146.60 L556.00,146.60 L556.70,146.60 L557.40,146.60 L558.10,146.60 L558.80,146.60 L559.50,146.60 L560.20,146.60 L560.90,146.60 L561.60,146.60 L562.30,146.60 L563.00,146.60 L563.70,146.60 L564.40,146.60 L565.10,146.60 L565.80,146.60 L566.50,146.60" fill="none" stroke="rgb(232,30,38)" stroke-width="2.0" stroke-linejoin="round"/>
<path d="M415.30,146.60 L416.00,146.60 L416.70,146.60 L417.40,146.60 L418.10,146.60 L418.80,146.60 L419.50,146.60 L420.20,146.60 L420.90,146.60 L421.60,146.60 L422.30,146.60 L423.00,146.60 L423.70,146.60 L424.40,146.60 L425.10,146.60 L425.80,146.60 L426.50,146.60 L427.20,146.60 L427.90,146.60 L428.60,146.60 L429.30,146.60 L430.00,146.59 L430.70,146.59 L431.40,146.59 L432.10,146.59 L432.80,146.59 L433.50,146.58 L434.20,146.58 L434.90,146.57 L435.60,146.56 L436.30,146.56 L437.00,146.54 L437.70,146.53 L438.40,146.51 L439.10,146.49 L439.80,146.47 L440.50,146.44 L441.20,146.41 L441.90,146.36 L442.60,146.31 L443.30,146.25 L444.00,146.18 L444.70,146.10 L445.40,146.00 L446.10,145.89 L446.80,145.76 L447.50,145.61 L448.20,145.43 L448.90,145.19 L449.60,144.98 L450.30,144.78 L451.00,144.49 L451.70,144.08 L452.40,143.60 L453.10,143.29 L453.80,142.78 L454.50,142.46 L455.20,141.59 L455.90,141.02 L456.60,140.61 L457.30,139.35 L458.00,138.76 L458.70,138.17 L459.40,137.22 L460.10,135.56 L460.80,134.44 L461.50,133.29 L462.20,133.09 L462.90,131.05 L463.60,130.34 L464.30,129.18 L465.00,127.14 L465.70,125.66 L466.40,125.06 L467.10,123.21 L467.80,121.36 L468.50,120.48 L469.20,118.60 L469.90,117.18 L470.60,115.54 L471.30,115.18 L472.00,114.18 L472.70,112.73 L473.40,112.09 L474.10,110.07 L474.80,109.52 L475.50,109.13 L476.20,109.16 L476.90,108.74 L477.60,107.79 L478.30,107.49 L479.00,107.72 L479.70,107.95 L480.40,108.77 L481.10,108.31 L481.80,109.62 L482.50,110.24 L483.20,111.16 L483.90,112.03 L484.60,112.86 L485.30,113.65 L486.00,114.84 L486.70,116.16 L487.40,118.00 L488.10,118.52 L488.80,120.07 L489.50,122.16 L490.20,122.99 L490.90,124.20 L491.60,125.58 L492.30,127.61 L493.00,128.70 L493.70,130.82 L494.40,131.99 L495.10,133.35 L495.80,133.69 L496.50,134.66 L497.20,135.77 L497.90,137.14 L498.60,138.23 L499.30,138.91 L500.00,139.60 L500.70,140.46 L501.40,141.24 L502.10,141.89 L502.80,142.47 L503.50,143.01 L504.20,143.41 L504.90,143.68 L505.60,144.22 L506.30,144.44 L507.00,144.78 L507.70,145.02 L508.40,145.29 L509.10,145.46 L509.80,145.63 L510.50,145.78 L511.20,145.91 L511.90,146.02 L512.60,146.11 L513.30,146.20 L514.00,146.26 L514.70,146.32 L515.40,146.37 L516.10,146.41 L516.80,146.45 L517.50,146.47 L518.20,146.50 L518.90,146.52 L519.60,146.53 L520.30,146.55 L521.00,146.56 L521.70,146.57 L522.40,146.57 L523.10,146.58 L523.80,146.58 L524.50,146.59 L525.20,146.59 L525.90,146.59 L526.60,146.59 L527.30,146.60 L528.00,146.60 L528.70,146.60 L529.40,146.60 L530.10,146.60 L530.80,146.60 L531.50,146.60 L532.20,146.60 L532.90,146.60 L533.60,146.60 L534.30,146.60 L535.00,146.60 L535.70,146.60 L536.40,146.60 L537.10,146.60 L537.80,146.60 L538.50,146.60 L539.20,146.60 L539.90,146.60 L540.60,146.60 L541.30,146.60 L542.00,146.60 L542.70,146.60 L543.40,146.60 L544.10,146.60 L544.80,146.60 L545.50,146.60 L546.20,146.60 L546.90,146.60 L547.60,146.60 L548.30,146.60 L549.00,146.60 L549.70,146.60 L550.40,146.60 L551.10,146.60 L551.80,146.60 L552.50,146.60 L553.20,146.60 L553.90,146.60 L554.60,146.60 L555.30,146.60 L556.00,146.60 L556.70,146.60 L557.40,146.60 L558.10,146.60 L558.80,146.60 L559.50,146.60 L560.20,146.60 L560.90,146.60 L561.60,146.60 L562.30,146.60 L563.00,146.60 L563.70,146.60 L564.40,146.60 L565.10,146.60 L565.80,146.60 L566.50,146.60" fill="none" stroke="rgb(245,170,200)" stroke-width="2.0" stroke-linejoin="round"/>
<path d="M415.30,146.60 L416.00,146.60 L416.70,146.60 L417.40,146.60 L418.10,146.60 L418.80,146.60 L419.50,146.60 L420.20,146.60 L420.90,146.60 L421.60,146.60 L422.30,146.60 L423.00,146.60 L423.70,146.60 L424.40,146.60 L425.10,146.60 L425.80,146.60 L426.50,146.60 L427.20,146.60 L427.90,146.60 L428.60,146.60 L429.30,146.60 L430.00,146.60 L430.70,146.60 L431.40,146.60 L432.10,146.60 L432.80,146.60 L433.50,146.60 L434.20,146.60 L434.90,146.60 L435.60,146.60 L436.30,146.60 L437.00,146.60 L437.70,146.60 L438.40,146.60 L439.10,146.60 L439.80,146.60 L440.50,146.60 L441.20,146.60 L441.90,146.60 L442.60,146.60 L443.30,146.60 L444.00,146.60 L444.70,146.60 L445.40,146.60 L446.10,146.60 L446.80,146.60 L447.50,146.60 L448.20,146.60 L448.90,146.60 L449.60,146.60 L450.30,146.60 L451.00,146.60 L451.70,146.60 L452.40,146.60 L453.10,146.60 L453.80,146.60 L454.50,146.60 L455.20,146.60 L455.90,146.60 L456.60,146.60 L457.30,146.60 L458.00,146.60 L458.70,146.60 L459.40,146.60 L460.10,146.60 L460.80,146.60 L461.50,146.60 L462.20,146.60 L462.90,146.59 L463.60,146.59 L464.30,146.59 L465.00,146.59 L465.70,146.58 L466.40,146.58 L467.10,146.57 L467.80,146.57 L468.50,146.56 L469.20,146.55 L469.90,146.53 L470.60,146.51 L471.30,146.49 L472.00,146.46 L472.70,146.43 L473.40,146.39 L474.10,146.34 L474.80,146.29 L475.50,146.22 L476.20,146.13 L476.90,146.04 L477.60,145.92 L478.30,145.78 L479.00,145.62 L479.70,145.44 L480.40,145.19 L481.10,144.94 L481.80,144.64 L482.50,144.29 L483.20,144.07 L483.90,143.58 L484.60,143.04 L485.30,142.52 L486.00,142.16 L486.70,141.31 L487.40,140.43 L488.10,139.96 L488.80,139.01 L489.50,138.32 L490.20,136.59 L490.90,135.80 L491.60,134.98 L492.30,133.79 L493.00,132.57 L493.70,130.14 L494.40,128.99 L495.10,127.28 L495.80,125.82 L496.50,125.18 L497.20,123.11 L497.90,121.91 L498.60,119.63 L499.30,118.62 L500.00,116.55 L500.70,114.80 L501.40,113.96 L502.10,112.77 L502.80,110.47 L503.50,109.86 L504.20,108.82 L504.90,107.39 L505.60,106.77 L506.30,105.85 L507.00,105.44 L507.70,105.17 L508.40,105.43 L509.10,105.51 L509.80,105.17 L510.50,105.29 L511.20,106.20 L511.90,107.30 L512.60,107.54 L513.30,108.66 L514.00,109.63 L514.70,111.56 L515.40,112.58 L516.10,113.40 L516.80,114.93 L517.50,116.81 L518.20,118.58 L518.90,120.29 L519.60,121.24 L520.30,122.94 L521.00,125.18 L521.70,126.41 L522.40,127.80 L523.10,129.32 L523.80,131.53 L524.50,132.13 L525.20,133.74 L525.90,134.76 L526.60,135.99 L527.30,137.45 L528.00,138.52 L528.70,139.00 L529.40,139.77 L530.10,140.85 L530.80,141.31 L531.50,141.90 L532.20,142.81 L532.90,143.17 L533.60,143.74 L534.30,144.05 L535.00,144.50 L535.70,144.74 L536.40,144.98 L537.10,145.21 L537.80,145.48 L538.50,145.66 L539.20,145.81 L539.90,145.95 L540.60,146.06 L541.30,146.15 L542.00,146.23 L542.70,146.30 L543.40,146.35 L544.10,146.40 L544.80,146.44 L545.50,146.47 L546.20,146.50 L546.90,146.52 L547.60,146.53 L548.30,146.55 L549.00,146.56 L549.70,146.57 L550.40,146.57 L551.10,146.58 L551.80,146.58 L552.50,146.59 L553.20,146.59 L553.90,146.59 L554.60,146.59 L555.30,146.60 L556.00,146.60 L556.70,146.60 L557.40,146.60 L558.10,146.60 L558.80,146.60 L559.50,146.60 L560.20,146.60 L560.90,146.60 L561.60,146.60 L562.30,146.60 L563.00,146.60 L563.70,146.60 L564.40,146.60 L565.10,146.60 L565.80,146.60 L566.50,146.60" fill="none" stroke="rgb(115,175,230)" stroke-width="2.0" stroke-linejoin="round"/>
<path d="M450.60,107.70 L451.70,107.06 L453.27,106.40 L455.10,103.50 L457.00,103.54 L458.30,102.52 L459.68,102.29 L461.13,101.14 L462.60,101.07 L464.06,101.32 L465.50,102.05 L466.93,100.54 L468.38,101.63 L469.83,102.70 L471.25,103.50 L472.62,102.39 L473.90,102.55 L475.64,104.37 L477.22,104.46 L478.75,103.52 L480.30,102.91 L481.90,105.16 L483.51,104.76 L485.11,106.55 L486.70,106.74 L488.33,107.98 L489.98,107.57 L491.57,109.66 L493.00,109.14 L494.52,110.06 L495.81,111.17 L497.30,110.66 L498.68,108.29 L500.19,106.78 L501.75,105.37 L503.30,103.94 L504.82,102.13 L506.34,100.07 L507.87,98.81 L509.40,98.35 L510.93,97.39 L512.46,94.46 L513.98,94.32 L515.50,93.51 L517.06,90.74 L518.65,90.93 L520.16,88.25 L521.50,88.40 L523.42,88.02 L525.20,89.15 L526.76,89.91 L528.45,92.04 L530.00,94.37 L532.10,97.43 L533.60,100.30" fill="none" stroke="#111" stroke-width="1.8" stroke-linejoin="round"/>
<line x1="415" y1="146.9" x2="566.8" y2="146.9" stroke="rgb(38,58,158)" stroke-width="2"/>
<line x1="500" y1="145.79999999999998" x2="545" y2="145.79999999999998" stroke="rgb(245,170,200)" stroke-width="2"/>
<path d="M415.30,146.60 L416.00,146.60 L416.70,146.60 L417.40,146.60 L418.10,146.60 L418.80,146.60 L419.50,146.60 L420.20,146.60 L420.90,146.60 L421.60,146.60 L422.30,146.60 L423.00,146.60 L423.70,146.60 L424.40,146.60 L425.10,146.60 L425.80,146.60 L426.50,146.60 L427.20,146.60 L427.90,146.60 L428.60,146.60 L429.30,146.60 L430.00,146.60 L430.70,146.60 L431.40,146.60 L432.10,146.60 L432.80,146.60 L433.50,146.60 L434.20,146.60 L434.90,146.60 L435.60,146.60 L436.30,146.60 L437.00,146.60 L437.70,146.60 L438.40,146.60 L439.10,146.60 L439.80,146.60 L440.50,146.60 L441.20,146.60 L441.90,146.60 L442.60,146.60 L443.30,146.60 L444.00,146.60 L444.70,146.60 L445.40,146.60 L446.10,146.60 L446.80,146.60 L447.50,146.60 L448.20,146.60 L448.90,146.60 L449.60,146.60 L450.30,146.60 L451.00,146.60 L451.70,146.60 L452.40,146.60 L453.10,146.60 L453.80,146.60 L454.50,146.60 L455.20,146.60 L455.90,146.60 L456.60,146.60 L457.30,146.60 L458.00,146.60 L458.70,146.60 L459.40,146.60 L460.10,146.60 L460.80,146.60 L461.50,146.60 L462.20,146.60 L462.90,146.60 L463.60,146.60 L464.30,146.60 L465.00,146.60 L465.70,146.60 L466.40,146.60 L467.10,146.60 L467.80,146.60 L468.50,146.60 L469.20,146.60 L469.90,146.60 L470.60,146.60 L471.30,146.60 L472.00,146.60 L472.70,146.60 L473.40,146.60 L474.10,146.60 L474.80,146.60 L475.50,146.60 L476.20,146.60 L476.90,146.60 L477.60,146.60 L478.30,146.60 L479.00,146.60 L479.70,146.60 L480.40,146.60 L481.10,146.60 L481.80,146.60 L482.50,146.60 L483.20,146.60 L483.90,146.60 L484.60,146.59 L485.30,146.59 L486.00,146.59 L486.70,146.59 L487.40,146.58 L488.10,146.58 L488.80,146.57 L489.50,146.56 L490.20,146.55 L490.90,146.54 L491.60,146.52 L492.30,146.50 L493.00,146.47 L493.70,146.43 L494.40,146.39 L495.10,146.34 L495.80,146.28 L496.50,146.20 L497.20,146.10 L497.90,145.99 L498.60,145.86 L499.30,145.70 L500.00,145.51 L500.70,145.30 L501.40,145.01 L502.10,144.70 L502.80,144.27 L503.50,143.98 L504.20,143.48 L504.90,142.86 L505.60,142.44 L506.30,141.78 L507.00,140.88 L507.70,139.86 L508.40,139.08 L509.10,137.77 L509.80,136.61 L510.50,135.62 L511.20,133.91 L511.90,132.84 L512.60,131.39 L513.30,129.19 L514.00,128.20 L514.70,125.74 L515.40,124.66 L516.10,122.80 L516.80,120.52 L517.50,117.99 L518.20,116.53 L518.90,114.40 L519.60,113.13 L520.30,110.25 L521.00,109.28 L521.70,107.71 L522.40,105.77 L523.10,104.38 L523.80,102.30 L524.50,102.08 L525.20,100.51 L525.90,100.29 L526.60,99.67 L527.30,98.42 L528.00,99.04 L528.70,99.31 L529.40,98.59 L530.10,99.48 L530.80,100.72 L531.50,100.95 L532.20,102.98 L532.90,103.55 L533.60,105.67 L534.30,106.48 L535.00,108.63 L535.70,110.95 L536.40,112.00 L537.10,114.01 L537.80,116.28 L538.50,118.05 L539.20,119.70 L539.90,121.84 L540.60,123.73 L541.30,126.53 L542.00,128.02 L542.70,130.01 L543.40,130.77 L544.10,133.06 L544.80,133.75 L545.50,135.55 L546.20,136.89 L546.90,137.82 L547.60,139.22 L548.30,139.96 L549.00,140.83 L549.70,141.74 L550.40,142.11 L551.10,143.04 L551.80,143.45 L552.50,143.87 L553.20,144.37 L553.90,144.63 L554.60,145.05 L555.30,145.26 L556.00,145.48 L556.70,145.67 L557.40,145.84 L558.10,145.98 L558.80,146.09 L559.50,146.19 L560.20,146.27 L560.90,146.33 L561.60,146.39 L562.30,146.43 L563.00,146.46 L563.70,146.49 L564.40,146.52 L565.10,146.53 L565.80,146.55 L566.50,146.56" fill="none" stroke="rgb(38,58,158)" stroke-width="2.0" stroke-linejoin="round"/>
<line x1="500" y1="145.79999999999998" x2="545" y2="145.79999999999998" stroke="rgb(245,170,200)" stroke-width="2"/>
<text x="449.80" y="100.2" font-size="10" fill="#222" stroke="#222" stroke-width="0.15">R<tspan font-size="7" dy="-2.2">*</tspan></text>
<text x="476.20" y="98" font-size="10" fill="#222" stroke="#222" stroke-width="0.15">R<tspan font-size="7" dy="-2.2">*'</tspan></text>
<text x="503.70" y="93" font-size="10" fill="#222" stroke="#222" stroke-width="0.15">R'</text>
<text x="525.60" y="87" font-size="10" fill="#222" stroke="#222" stroke-width="0.15">R</text>
<text x="444.6" y="137.3" font-size="10.1" text-anchor="start" font-weight="bold" fill="#222" stroke="#222" stroke-width="0.05">23%</text>
<text x="471.1" y="139.4" font-size="10.1" text-anchor="start" font-weight="bold" fill="#222" stroke="#222" stroke-width="0.05">25%</text>
<text x="500.2" y="130.6" font-size="10.1" text-anchor="start" font-weight="bold" fill="#222" stroke="#222" stroke-width="0.05">25%</text>
<text x="524.5" y="139" font-size="10.1" text-anchor="start" font-weight="bold" fill="#222" stroke="#222" stroke-width="0.05">27%</text>
<line x1="415.40000000000003" y1="197.70000000000002" x2="415.40000000000003" y2="304.90000000000003" stroke="#222" stroke-width="1.4"/>
<line x1="414.70000000000005" y1="304.1" x2="567.28" y2="304.1" stroke="#222" stroke-width="1.4"/>
<line x1="413.40000000000003" y1="301.8" x2="415.40000000000003" y2="301.8" stroke="#222" stroke-width="1"/>
<text x="411.70000000000005" y="303.90000000000003" font-size="5.9" text-anchor="end" font-weight="normal" fill="#333" stroke="#333" stroke-width="0.08">0.0</text>
<line x1="413.40000000000003" y1="281.1" x2="415.40000000000003" y2="281.1" stroke="#222" stroke-width="1"/>
<text x="411.70000000000005" y="283.20000000000005" font-size="5.9" text-anchor="end" font-weight="normal" fill="#333" stroke="#333" stroke-width="0.08">0.5</text>
<line x1="413.40000000000003" y1="260.40000000000003" x2="415.40000000000003" y2="260.40000000000003" stroke="#222" stroke-width="1"/>
<text x="411.70000000000005" y="262.50000000000006" font-size="5.9" text-anchor="end" font-weight="normal" fill="#333" stroke="#333" stroke-width="0.08">1.0</text>
<line x1="413.40000000000003" y1="239.70000000000002" x2="415.40000000000003" y2="239.70000000000002" stroke="#222" stroke-width="1"/>
<text x="411.70000000000005" y="241.8" font-size="5.9" text-anchor="end" font-weight="normal" fill="#333" stroke="#333" stroke-width="0.08">1.5</text>
<line x1="413.40000000000003" y1="219.0" x2="415.40000000000003" y2="219.0" stroke="#222" stroke-width="1"/>
<text x="411.70000000000005" y="221.1" font-size="5.9" text-anchor="end" font-weight="normal" fill="#333" stroke="#333" stroke-width="0.08">2.0</text>
<line x1="413.40000000000003" y1="198.3" x2="415.40000000000003" y2="198.3" stroke="#222" stroke-width="1"/>
<text x="411.70000000000005" y="200.4" font-size="5.9" text-anchor="end" font-weight="normal" fill="#333" stroke="#333" stroke-width="0.08">2.5</text>
<line x1="415.3" y1="304.1" x2="415.3" y2="306.1" stroke="#222" stroke-width="1"/>
<text x="415.3" y="313.0" font-size="5.9" text-anchor="middle" font-weight="normal" fill="#333" stroke="#333" stroke-width="0.08">-0.2</text>
<line x1="436.94" y1="304.1" x2="436.94" y2="306.1" stroke="#222" stroke-width="1"/>
<text x="436.94" y="313.0" font-size="5.9" text-anchor="middle" font-weight="normal" fill="#333" stroke="#333" stroke-width="0.08">0.0</text>
<line x1="458.58000000000004" y1="304.1" x2="458.58000000000004" y2="306.1" stroke="#222" stroke-width="1"/>
<text x="458.58000000000004" y="313.0" font-size="5.9" text-anchor="middle" font-weight="normal" fill="#333" stroke="#333" stroke-width="0.08">0.2</text>
<line x1="480.22" y1="304.1" x2="480.22" y2="306.1" stroke="#222" stroke-width="1"/>
<text x="480.22" y="313.0" font-size="5.9" text-anchor="middle" font-weight="normal" fill="#333" stroke="#333" stroke-width="0.08">0.4</text>
<line x1="501.86" y1="304.1" x2="501.86" y2="306.1" stroke="#222" stroke-width="1"/>
<text x="501.86" y="313.0" font-size="5.9" text-anchor="middle" font-weight="normal" fill="#333" stroke="#333" stroke-width="0.08">0.6</text>
<line x1="523.5" y1="304.1" x2="523.5" y2="306.1" stroke="#222" stroke-width="1"/>
<text x="523.5" y="313.0" font-size="5.9" text-anchor="middle" font-weight="normal" fill="#333" stroke="#333" stroke-width="0.08">0.8</text>
<line x1="545.1400000000001" y1="304.1" x2="545.1400000000001" y2="306.1" stroke="#222" stroke-width="1"/>
<text x="545.1400000000001" y="313.0" font-size="5.9" text-anchor="middle" font-weight="normal" fill="#333" stroke="#333" stroke-width="0.08">1.0</text>
<line x1="566.78" y1="304.1" x2="566.78" y2="306.1" stroke="#222" stroke-width="1"/>
<text x="566.78" y="313.0" font-size="5.9" text-anchor="middle" font-weight="normal" fill="#333" stroke="#333" stroke-width="0.08">1.2</text>
<path d="M415.30,301.75 L416.00,301.74 L416.70,301.71 L417.40,301.68 L418.10,301.64 L418.80,301.59 L419.50,301.52 L420.20,301.42 L420.90,301.31 L421.60,301.16 L422.30,300.97 L423.00,300.73 L423.70,300.42 L424.40,300.11 L425.10,299.60 L425.80,298.99 L426.50,298.47 L427.20,297.44 L427.90,296.79 L428.60,295.39 L429.30,294.30 L430.00,293.06 L430.70,290.99 L431.40,289.07 L432.10,286.37 L432.80,283.42 L433.50,280.58 L434.20,277.54 L434.90,274.62 L435.60,270.62 L436.30,266.65 L437.00,262.79 L437.70,257.32 L438.40,252.68 L439.10,248.29 L439.80,242.54 L440.50,237.50 L441.20,232.93 L441.90,227.76 L442.60,223.38 L443.30,218.79 L444.00,215.14 L444.70,211.48 L445.40,207.83 L446.10,205.69 L446.80,203.46 L447.50,201.64 L448.20,201.85 L448.90,200.94 L449.60,201.44 L450.30,202.65 L451.00,205.21 L451.70,208.01 L452.40,210.98 L453.10,214.09 L453.80,217.93 L454.50,221.98 L455.20,227.38 L455.90,232.12 L456.60,236.83 L457.30,242.21 L458.00,246.97 L458.70,252.48 L459.40,257.03 L460.10,261.05 L460.80,266.21 L461.50,269.30 L462.20,273.73 L462.90,277.12 L463.60,280.17 L464.30,282.89 L465.00,286.40 L465.70,287.85 L466.40,290.55 L467.10,292.68 L467.80,293.65 L468.50,295.09 L469.20,296.47 L469.90,297.41 L470.60,298.28 L471.30,299.01 L472.00,299.44 L472.70,299.95 L473.40,300.34 L474.10,300.67 L474.80,300.92 L475.50,301.12 L476.20,301.28 L476.90,301.40 L477.60,301.50 L478.30,301.57 L479.00,301.63 L479.70,301.67 L480.40,301.71 L481.10,301.73 L481.80,301.75 L482.50,301.76 L483.20,301.77 L483.90,301.78 L484.60,301.79 L485.30,301.79 L486.00,301.79 L486.70,301.80 L487.40,301.80 L488.10,301.80 L488.80,301.80 L489.50,301.80 L490.20,301.80 L490.90,301.80 L491.60,301.80 L492.30,301.80 L493.00,301.80 L493.70,301.80 L494.40,301.80 L495.10,301.80 L495.80,301.80 L496.50,301.80 L497.20,301.80 L497.90,301.80 L498.60,301.80 L499.30,301.80 L500.00,301.80 L500.70,301.80 L501.40,301.80 L502.10,301.80 L502.80,301.80 L503.50,301.80 L504.20,301.80 L504.90,301.80 L505.60,301.80 L506.30,301.80 L507.00,301.80 L507.70,301.80 L508.40,301.80 L509.10,301.80 L509.80,301.80 L510.50,301.80 L511.20,301.80 L511.90,301.80 L512.60,301.80 L513.30,301.80 L514.00,301.80 L514.70,301.80 L515.40,301.80 L516.10,301.80 L516.80,301.80 L517.50,301.80 L518.20,301.80 L518.90,301.80 L519.60,301.80 L520.30,301.80 L521.00,301.80 L521.70,301.80 L522.40,301.80 L523.10,301.80 L523.80,301.80 L524.50,301.80 L525.20,301.80 L525.90,301.80 L526.60,301.80 L527.30,301.80 L528.00,301.80 L528.70,301.80 L529.40,301.80 L530.10,301.80 L530.80,301.80 L531.50,301.80 L532.20,301.80 L532.90,301.80 L533.60,301.80 L534.30,301.80 L535.00,301.80 L535.70,301.80 L536.40,301.80 L537.10,301.80 L537.80,301.80 L538.50,301.80 L539.20,301.80 L539.90,301.80 L540.60,301.80 L541.30,301.80 L542.00,301.80 L542.70,301.80 L543.40,301.80 L544.10,301.80 L544.80,301.80 L545.50,301.80 L546.20,301.80 L546.90,301.80 L547.60,301.80 L548.30,301.80 L549.00,301.80 L549.70,301.80 L550.40,301.80 L551.10,301.80 L551.80,301.80 L552.50,301.80 L553.20,301.80 L553.90,301.80 L554.60,301.80 L555.30,301.80 L556.00,301.80 L556.70,301.80 L557.40,301.80 L558.10,301.80 L558.80,301.80 L559.50,301.80 L560.20,301.80 L560.90,301.80 L561.60,301.80 L562.30,301.80 L563.00,301.80 L563.70,301.80 L564.40,301.80 L565.10,301.80 L565.80,301.80 L566.50,301.80" fill="none" stroke="rgb(232,30,38)" stroke-width="2.0" stroke-linejoin="round"/>
<path d="M415.30,301.80 L416.00,301.80 L416.70,301.80 L417.40,301.80 L418.10,301.80 L418.80,301.80 L419.50,301.80 L420.20,301.80 L420.90,301.79 L421.60,301.79 L422.30,301.79 L423.00,301.79 L423.70,301.78 L424.40,301.78 L425.10,301.77 L425.80,301.77 L426.50,301.76 L427.20,301.75 L427.90,301.73 L428.60,301.72 L429.30,301.69 L430.00,301.67 L430.70,301.64 L431.40,301.60 L432.10,301.55 L432.80,301.49 L433.50,301.43 L434.20,301.35 L434.90,301.25 L435.60,301.14 L436.30,301.00 L437.00,300.84 L437.70,300.66 L438.40,300.39 L439.10,300.25 L439.80,299.95 L440.50,299.62 L441.20,299.09 L441.90,298.87 L442.60,298.37 L443.30,297.74 L444.00,297.24 L444.70,296.44 L445.40,295.56 L446.10,294.64 L446.80,293.78 L447.50,292.61 L448.20,291.74 L448.90,290.94 L449.60,289.65 L450.30,288.50 L451.00,286.90 L451.70,284.84 L452.40,283.58 L453.10,281.77 L453.80,280.45 L454.50,278.33 L455.20,276.17 L455.90,274.74 L456.60,273.22 L457.30,270.42 L458.00,269.31 L458.70,266.39 L459.40,264.84 L460.10,263.03 L460.80,261.93 L461.50,260.56 L462.20,258.82 L462.90,256.94 L463.60,256.37 L464.30,254.62 L465.00,253.60 L465.70,253.67 L466.40,252.79 L467.10,252.51 L467.80,252.33 L468.50,252.75 L469.20,252.38 L469.90,253.26 L470.60,253.73 L471.30,254.73 L472.00,255.22 L472.70,256.71 L473.40,257.83 L474.10,258.95 L474.80,260.39 L475.50,262.54 L476.20,263.63 L476.90,266.44 L477.60,267.38 L478.30,269.13 L479.00,271.14 L479.70,274.04 L480.40,275.23 L481.10,276.85 L481.80,278.55 L482.50,280.34 L483.20,282.83 L483.90,284.41 L484.60,286.05 L485.30,287.58 L486.00,288.21 L486.70,290.11 L487.40,291.11 L488.10,292.64 L488.80,293.65 L489.50,294.63 L490.20,295.01 L490.90,296.24 L491.60,296.96 L492.30,297.59 L493.00,297.87 L493.70,298.43 L494.40,298.88 L495.10,299.28 L495.80,299.79 L496.50,300.09 L497.20,300.33 L497.90,300.58 L498.60,300.74 L499.30,300.92 L500.00,301.06 L500.70,301.19 L501.40,301.29 L502.10,301.38 L502.80,301.46 L503.50,301.52 L504.20,301.57 L504.90,301.62 L505.60,301.65 L506.30,301.68 L507.00,301.70 L507.70,301.72 L508.40,301.74 L509.10,301.75 L509.80,301.76 L510.50,301.77 L511.20,301.78 L511.90,301.78 L512.60,301.79 L513.30,301.79 L514.00,301.79 L514.70,301.79 L515.40,301.80 L516.10,301.80 L516.80,301.80 L517.50,301.80 L518.20,301.80 L518.90,301.80 L519.60,301.80 L520.30,301.80 L521.00,301.80 L521.70,301.80 L522.40,301.80 L523.10,301.80 L523.80,301.80 L524.50,301.80 L525.20,301.80 L525.90,301.80 L526.60,301.80 L527.30,301.80 L528.00,301.80 L528.70,301.80 L529.40,301.80 L530.10,301.80 L530.80,301.80 L531.50,301.80 L532.20,301.80 L532.90,301.80 L533.60,301.80 L534.30,301.80 L535.00,301.80 L535.70,301.80 L536.40,301.80 L537.10,301.80 L537.80,301.80 L538.50,301.80 L539.20,301.80 L539.90,301.80 L540.60,301.80 L541.30,301.80 L542.00,301.80 L542.70,301.80 L543.40,301.80 L544.10,301.80 L544.80,301.80 L545.50,301.80 L546.20,301.80 L546.90,301.80 L547.60,301.80 L548.30,301.80 L549.00,301.80 L549.70,301.80 L550.40,301.80 L551.10,301.80 L551.80,301.80 L552.50,301.80 L553.20,301.80 L553.90,301.80 L554.60,301.80 L555.30,301.80 L556.00,301.80 L556.70,301.80 L557.40,301.80 L558.10,301.80 L558.80,301.80 L559.50,301.80 L560.20,301.80 L560.90,301.80 L561.60,301.80 L562.30,301.80 L563.00,301.80 L563.70,301.80 L564.40,301.80 L565.10,301.80 L565.80,301.80 L566.50,301.80" fill="none" stroke="rgb(245,170,200)" stroke-width="2.0" stroke-linejoin="round"/>
<path d="M415.30,301.80 L416.00,301.80 L416.70,301.80 L417.40,301.80 L418.10,301.80 L418.80,301.80 L419.50,301.80 L420.20,301.80 L420.90,301.80 L421.60,301.80 L422.30,301.80 L423.00,301.80 L423.70,301.80 L424.40,301.80 L425.10,301.80 L425.80,301.80 L426.50,301.80 L427.20,301.80 L427.90,301.80 L428.60,301.80 L429.30,301.80 L430.00,301.80 L430.70,301.80 L431.40,301.80 L432.10,301.80 L432.80,301.80 L433.50,301.80 L434.20,301.80 L434.90,301.80 L435.60,301.80 L436.30,301.80 L437.00,301.80 L437.70,301.80 L438.40,301.80 L439.10,301.80 L439.80,301.80 L440.50,301.80 L441.20,301.80 L441.90,301.80 L442.60,301.80 L443.30,301.80 L444.00,301.80 L444.70,301.80 L445.40,301.80 L446.10,301.80 L446.80,301.80 L447.50,301.80 L448.20,301.80 L448.90,301.80 L449.60,301.80 L450.30,301.80 L451.00,301.80 L451.70,301.80 L452.40,301.80 L453.10,301.79 L453.80,301.79 L454.50,301.79 L455.20,301.79 L455.90,301.78 L456.60,301.78 L457.30,301.77 L458.00,301.77 L458.70,301.76 L459.40,301.75 L460.10,301.73 L460.80,301.72 L461.50,301.70 L462.20,301.68 L462.90,301.65 L463.60,301.62 L464.30,301.58 L465.00,301.53 L465.70,301.47 L466.40,301.41 L467.10,301.33 L467.80,301.25 L468.50,301.14 L469.20,301.03 L469.90,300.89 L470.60,300.74 L471.30,300.56 L472.00,300.38 L472.70,300.11 L473.40,299.82 L474.10,299.53 L474.80,299.35 L475.50,298.87 L476.20,298.52 L476.90,298.13 L477.60,297.53 L478.30,297.12 L479.00,296.59 L479.70,296.23 L480.40,295.45 L481.10,294.78 L481.80,294.52 L482.50,293.51 L483.20,293.06 L483.90,292.12 L484.60,290.82 L485.30,290.37 L486.00,289.58 L486.70,289.15 L487.40,287.85 L488.10,287.49 L488.80,286.50 L489.50,285.36 L490.20,285.41 L490.90,283.79 L491.60,284.02 L492.30,282.65 L493.00,281.91 L493.70,281.68 L494.40,281.95 L495.10,281.89 L495.80,280.47 L496.50,280.89 L497.20,280.81 L497.90,281.18 L498.60,280.53 L499.30,281.07 L500.00,281.15 L500.70,282.06 L501.40,281.78 L502.10,283.07 L502.80,282.81 L503.50,283.33 L504.20,284.56 L504.90,285.01 L505.60,285.27 L506.30,286.66 L507.00,286.78 L507.70,288.42 L508.40,289.11 L509.10,289.99 L509.80,290.62 L510.50,291.16 L511.20,291.98 L511.90,292.74 L512.60,293.83 L513.30,293.98 L514.00,295.15 L514.70,295.29 L515.40,296.01 L516.10,296.61 L516.80,297.40 L517.50,297.73 L518.20,298.14 L518.90,298.70 L519.60,298.90 L520.30,299.30 L521.00,299.63 L521.70,299.94 L522.40,300.19 L523.10,300.39 L523.80,300.57 L524.50,300.74 L525.20,300.90 L525.90,301.03 L526.60,301.15 L527.30,301.25 L528.00,301.34 L528.70,301.41 L529.40,301.48 L530.10,301.53 L530.80,301.58 L531.50,301.62 L532.20,301.65 L532.90,301.68 L533.60,301.70 L534.30,301.72 L535.00,301.73 L535.70,301.75 L536.40,301.76 L537.10,301.77 L537.80,301.77 L538.50,301.78 L539.20,301.78 L539.90,301.79 L540.60,301.79 L541.30,301.79 L542.00,301.79 L542.70,301.80 L543.40,301.80 L544.10,301.80 L544.80,301.80 L545.50,301.80 L546.20,301.80 L546.90,301.80 L547.60,301.80 L548.30,301.80 L549.00,301.80 L549.70,301.80 L550.40,301.80 L551.10,301.80 L551.80,301.80 L552.50,301.80 L553.20,301.80 L553.90,301.80 L554.60,301.80 L555.30,301.80 L556.00,301.80 L556.70,301.80 L557.40,301.80 L558.10,301.80 L558.80,301.80 L559.50,301.80 L560.20,301.80 L560.90,301.80 L561.60,301.80 L562.30,301.80 L563.00,301.80 L563.70,301.80 L564.40,301.80 L565.10,301.80 L565.80,301.80 L566.50,301.80" fill="none" stroke="rgb(115,175,230)" stroke-width="2.0" stroke-linejoin="round"/>
<path d="M448.90,200.90 L450.14,203.47 L451.90,206.88 L453.60,212.09 L455.01,215.41 L456.36,219.32 L457.70,221.64 L459.01,224.96 L460.33,228.12 L461.80,230.66 L463.08,232.55 L464.47,236.36 L465.90,240.42 L467.30,242.18 L468.65,244.96 L470.00,248.00 L471.35,251.50 L472.70,254.29 L474.07,255.18 L475.45,257.27 L476.83,259.41 L478.20,261.45 L479.52,263.67 L480.81,264.69 L482.15,266.68 L483.60,267.98 L484.90,270.73 L486.29,271.33 L487.72,271.14 L489.14,273.92 L490.50,273.30 L492.05,275.38 L493.51,278.16 L495.02,279.29 L496.70,280.47 L497.96,280.58 L499.31,280.71 L500.72,282.14 L502.16,281.57 L503.59,282.24 L505.00,283.08 L506.42,282.88 L507.89,284.14 L509.36,285.44 L510.78,285.69 L512.11,285.63 L513.30,286.06 L515.21,285.56 L516.76,284.30 L518.30,284.41 L519.97,282.92 L521.63,282.31 L523.30,281.62 L524.90,280.16 L526.51,280.21 L528.30,280.20 L529.64,279.14 L531.18,278.25 L532.72,278.72 L534.06,278.58 L535.00,277.50" fill="none" stroke="#111" stroke-width="1.8" stroke-linejoin="round"/>
<line x1="415" y1="302.1" x2="566.8" y2="302.1" stroke="rgb(38,58,158)" stroke-width="2"/>
<line x1="500" y1="301.0" x2="545" y2="301.0" stroke="rgb(115,175,230)" stroke-width="2"/>
<path d="M415.30,301.80 L416.00,301.80 L416.70,301.80 L417.40,301.80 L418.10,301.80 L418.80,301.80 L419.50,301.80 L420.20,301.80 L420.90,301.80 L421.60,301.80 L422.30,301.80 L423.00,301.80 L423.70,301.80 L424.40,301.80 L425.10,301.80 L425.80,301.80 L426.50,301.80 L427.20,301.80 L427.90,301.80 L428.60,301.80 L429.30,301.80 L430.00,301.80 L430.70,301.80 L431.40,301.80 L432.10,301.80 L432.80,301.80 L433.50,301.80 L434.20,301.80 L434.90,301.80 L435.60,301.80 L436.30,301.80 L437.00,301.80 L437.70,301.80 L438.40,301.80 L439.10,301.80 L439.80,301.80 L440.50,301.80 L441.20,301.80 L441.90,301.80 L442.60,301.80 L443.30,301.80 L444.00,301.80 L444.70,301.80 L445.40,301.80 L446.10,301.80 L446.80,301.80 L447.50,301.80 L448.20,301.80 L448.90,301.80 L449.60,301.80 L450.30,301.80 L451.00,301.80 L451.70,301.80 L452.40,301.80 L453.10,301.80 L453.80,301.80 L454.50,301.80 L455.20,301.80 L455.90,301.80 L456.60,301.80 L457.30,301.80 L458.00,301.80 L458.70,301.80 L459.40,301.80 L460.10,301.80 L460.80,301.80 L461.50,301.80 L462.20,301.80 L462.90,301.80 L463.60,301.80 L464.30,301.80 L465.00,301.80 L465.70,301.80 L466.40,301.80 L467.10,301.80 L467.80,301.80 L468.50,301.80 L469.20,301.80 L469.90,301.80 L470.60,301.80 L471.30,301.80 L472.00,301.80 L472.70,301.80 L473.40,301.80 L474.10,301.80 L474.80,301.80 L475.50,301.80 L476.20,301.80 L476.90,301.80 L477.60,301.80 L478.30,301.80 L479.00,301.80 L479.70,301.80 L480.40,301.80 L481.10,301.80 L481.80,301.80 L482.50,301.80 L483.20,301.80 L483.90,301.80 L484.60,301.80 L485.30,301.80 L486.00,301.80 L486.70,301.80 L487.40,301.80 L488.10,301.80 L488.80,301.80 L489.50,301.80 L490.20,301.80 L490.90,301.80 L491.60,301.80 L492.30,301.80 L493.00,301.80 L493.70,301.80 L494.40,301.80 L495.10,301.80 L495.80,301.79 L496.50,301.79 L497.20,301.79 L497.90,301.79 L498.60,301.78 L499.30,301.78 L500.00,301.77 L500.70,301.76 L501.40,301.75 L502.10,301.73 L502.80,301.71 L503.50,301.68 L504.20,301.65 L504.90,301.61 L505.60,301.57 L506.30,301.51 L507.00,301.44 L507.70,301.35 L508.40,301.25 L509.10,301.13 L509.80,300.98 L510.50,300.81 L511.20,300.60 L511.90,300.40 L512.60,300.13 L513.30,299.85 L514.00,299.47 L514.70,299.06 L515.40,298.55 L516.10,298.00 L516.80,297.54 L517.50,296.69 L518.20,296.14 L518.90,295.59 L519.60,294.77 L520.30,293.86 L521.00,292.66 L521.70,291.83 L522.40,290.85 L523.10,289.97 L523.80,288.67 L524.50,287.90 L525.20,287.11 L525.90,285.12 L526.60,284.62 L527.30,283.72 L528.00,282.26 L528.70,281.45 L529.40,281.17 L530.10,279.26 L530.80,279.19 L531.50,278.16 L532.20,278.44 L532.90,278.30 L533.60,277.59 L534.30,277.02 L535.00,277.65 L535.70,277.81 L536.40,278.34 L537.10,278.55 L537.80,279.27 L538.50,280.17 L539.20,280.58 L539.90,281.30 L540.60,282.88 L541.30,282.98 L542.00,284.59 L542.70,285.31 L543.40,286.84 L544.10,287.17 L544.80,289.26 L545.50,289.63 L546.20,290.41 L546.90,291.64 L547.60,292.73 L548.30,293.38 L549.00,294.53 L549.70,295.35 L550.40,296.24 L551.10,296.76 L551.80,297.37 L552.50,297.94 L553.20,298.61 L553.90,299.11 L554.60,299.41 L555.30,299.72 L556.00,300.13 L556.70,300.34 L557.40,300.59 L558.10,300.80 L558.80,300.97 L559.50,301.12 L560.20,301.24 L560.90,301.35 L561.60,301.43 L562.30,301.51 L563.00,301.56 L563.70,301.61 L564.40,301.65 L565.10,301.68 L565.80,301.71 L566.50,301.73" fill="none" stroke="rgb(38,58,158)" stroke-width="2.0" stroke-linejoin="round"/>
<line x1="500" y1="301.0" x2="545" y2="301.0" stroke="rgb(115,175,230)" stroke-width="2"/>
<text x="442.80" y="195.9" font-size="10" fill="#222" stroke="#222" stroke-width="0.15">R<tspan font-size="7" dy="-2.2">*</tspan></text>
<text x="466.50" y="245" font-size="10" fill="#222" stroke="#222" stroke-width="0.15">R<tspan font-size="7" dy="-2.2">*'</tspan></text>
<text x="497.50" y="277.5" font-size="10" fill="#222" stroke="#222" stroke-width="0.15">R'</text>
<text x="530.90" y="274.2" font-size="10" fill="#222" stroke="#222" stroke-width="0.15">R</text>
<text x="437.5" y="286.8" font-size="10.1" text-anchor="start" font-weight="bold" fill="#222" stroke="#222" stroke-width="0.05">45%</text>
<text x="464.8" y="286.8" font-size="10.1" text-anchor="start" font-weight="bold" fill="#222" stroke="#222" stroke-width="0.05">27%</text>
<text x="490.1" y="295.8" font-size="10.1" text-anchor="start" font-weight="bold" fill="#222" stroke="#222" stroke-width="0.05">14%</text>
<text x="523.5" y="295.8" font-size="10.1" text-anchor="start" font-weight="bold" fill="#222" stroke="#222" stroke-width="0.05">14%</text>
</svg></body></html>
